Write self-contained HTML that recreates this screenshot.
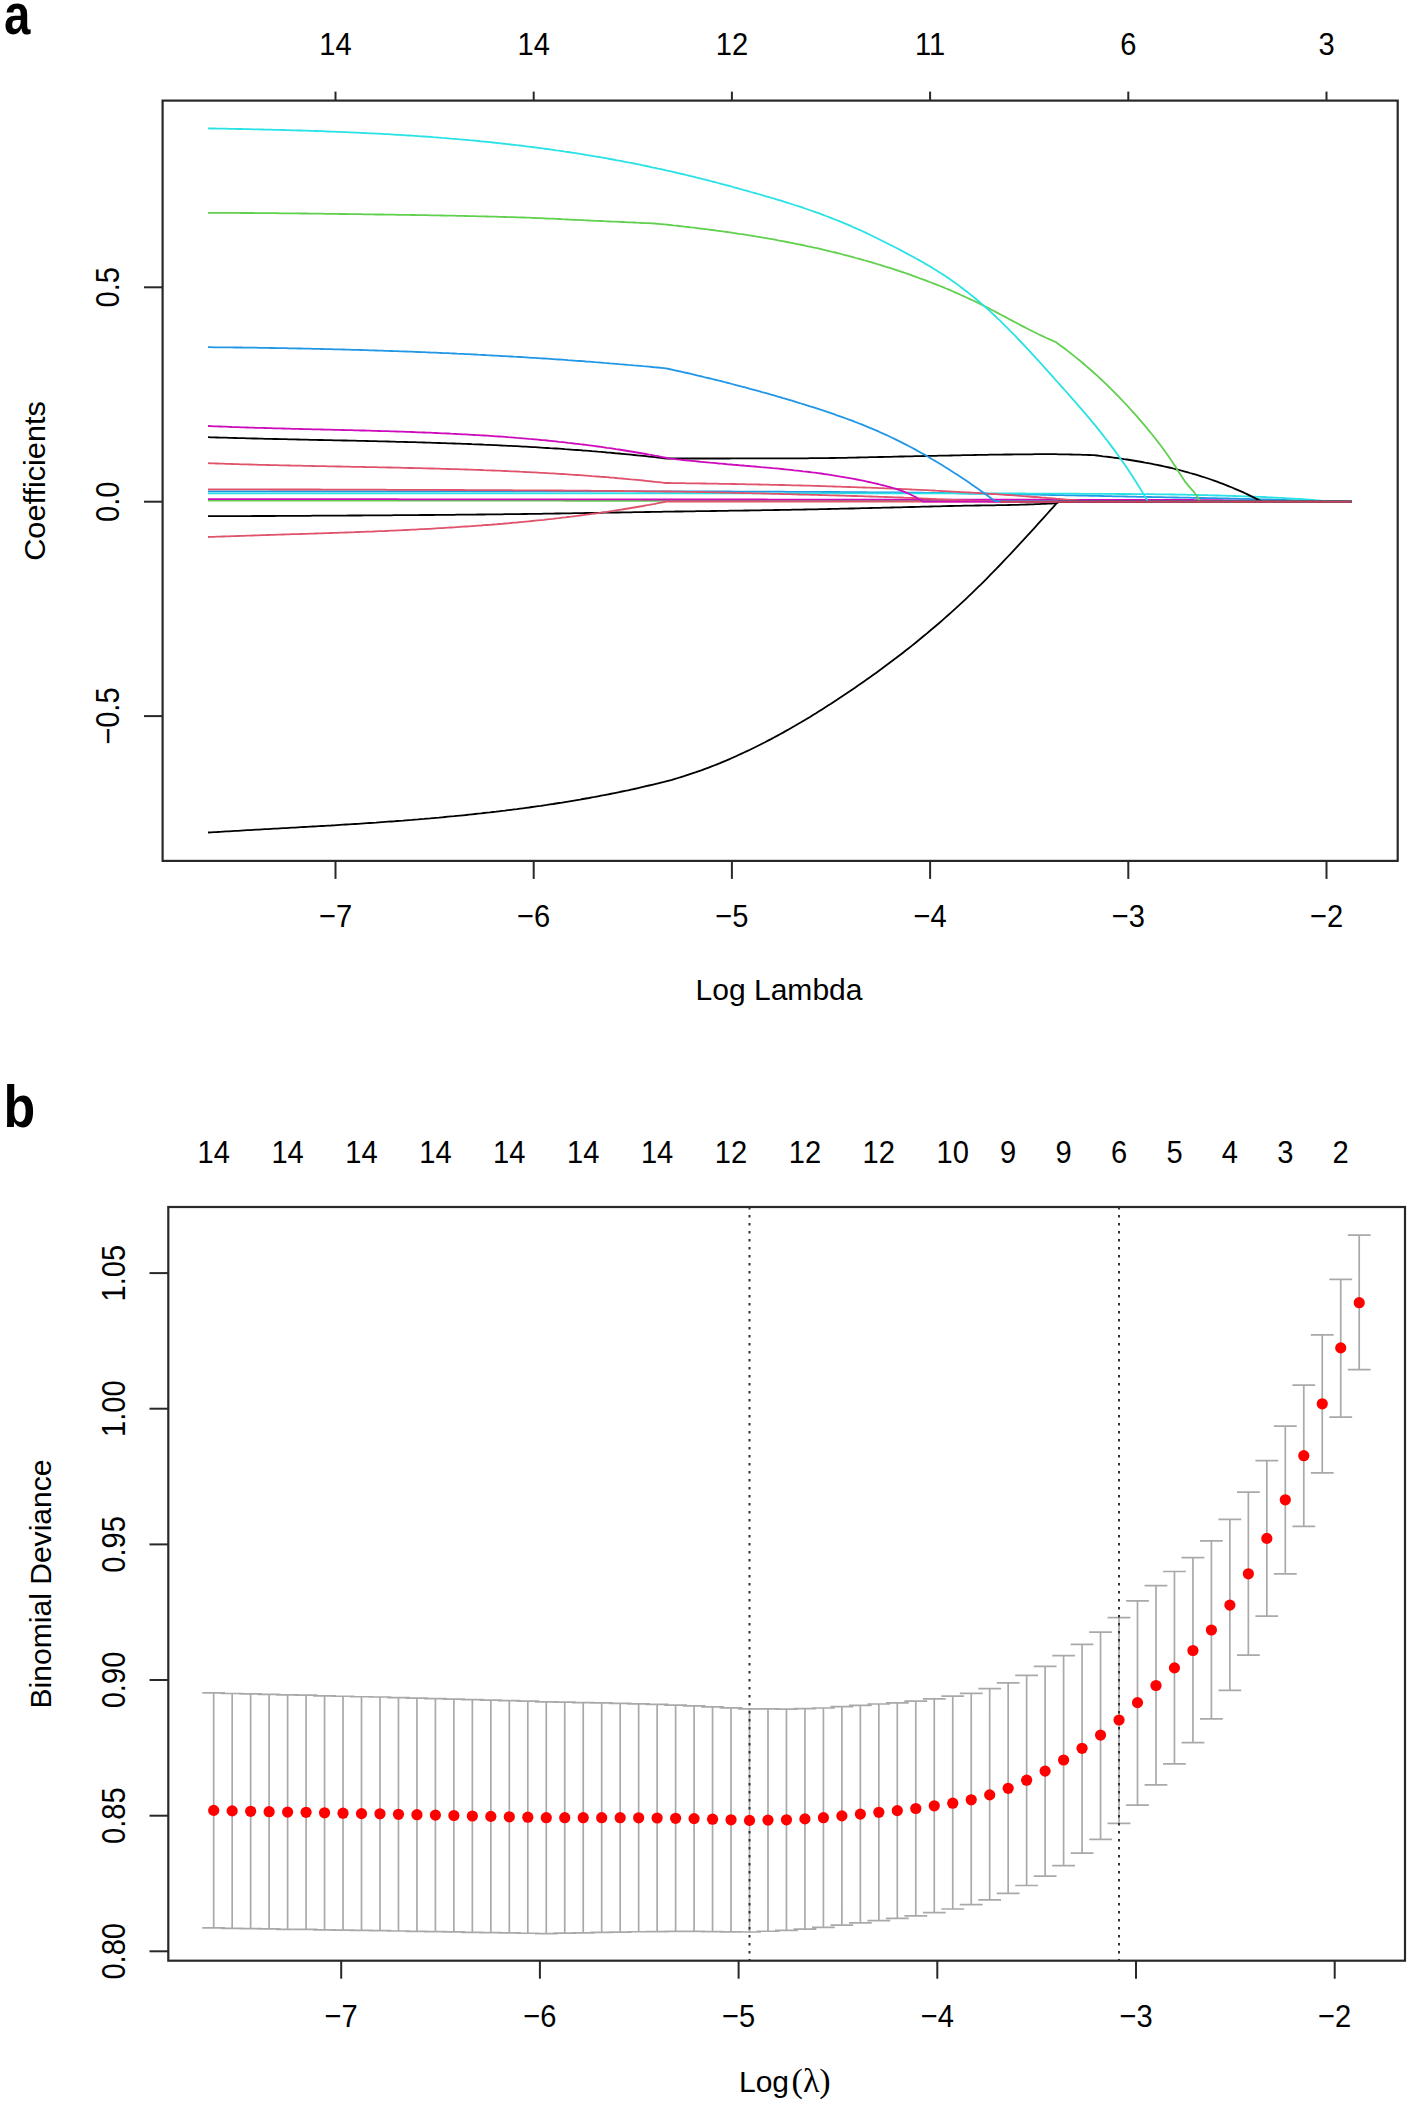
<!DOCTYPE html><html><head><meta charset="utf-8"><style>html,body{margin:0;padding:0;background:#fff;}svg{display:block}text{font-variant-ligatures:none}</style></head><body>
<svg width="1410" height="2104" viewBox="0 0 1410 2104" font-family="'Liberation Sans', sans-serif">
<rect width="1410" height="2104" fill="#fff"/>
<text x="0" y="0" font-size="56.5" font-weight="bold" transform="translate(4.0,34.2) scale(0.84,1)">a</text>
<text x="0" y="0" font-size="59" font-weight="bold" transform="translate(3.6,1126.6) scale(0.88,1)">b</text>
<clipPath id="ca"><rect x="162.6" y="100.6" width="1235.1000000000001" height="760.3"/></clipPath>
<g clip-path="url(#ca)">
<polyline points="208.0,500.5 211.0,500.5 214.0,500.5 217.0,500.5 220.0,500.5 223.0,500.5 226.0,500.5 229.0,500.5 232.0,500.5 235.0,500.5 238.0,500.5 241.0,500.5 244.0,500.5 247.0,500.5 250.0,500.5 253.0,500.5 256.0,500.5 259.0,500.5 262.0,500.5 265.0,500.5 268.0,500.5 271.0,500.5 274.0,500.5 277.0,500.5 280.0,500.6 283.0,500.6 286.0,500.6 289.0,500.6 292.0,500.6 295.0,500.6 298.0,500.6 301.0,500.6 304.0,500.6 307.0,500.6 310.0,500.6 313.0,500.6 316.0,500.6 319.0,500.6 322.0,500.6 325.0,500.6 328.0,500.6 331.0,500.6 334.0,500.6 337.0,500.6 340.0,500.6 343.0,500.6 346.0,500.6 349.0,500.6 352.0,500.6 355.0,500.6 358.0,500.6 361.0,500.6 364.0,500.6 367.0,500.6 370.0,500.6 373.0,500.6 376.0,500.6 379.0,500.6 382.0,500.6 385.0,500.6 388.0,500.6 391.0,500.6 394.0,500.6 397.0,500.6 400.0,500.6 403.0,500.6 406.0,500.6 409.0,500.6 412.0,500.6 415.0,500.6 418.0,500.6 421.0,500.7 424.0,500.7 427.0,500.7 430.0,500.7 433.0,500.7 436.0,500.7 439.0,500.7 442.0,500.7 445.0,500.7 448.0,500.7 451.0,500.7 454.0,500.7 457.0,500.7 460.0,500.7 463.0,500.7 466.0,500.7 469.0,500.7 472.0,500.7 475.0,500.7 478.0,500.7 481.0,500.7 484.0,500.7 487.0,500.7 490.0,500.7 493.0,500.7 496.0,500.7 499.0,500.7 502.0,500.7 505.0,500.7 508.0,500.7 511.0,500.7 514.0,500.7 517.0,500.7 520.0,500.7 523.0,500.7 526.0,500.7 529.0,500.7 532.0,500.7 535.0,500.7 538.0,500.7 541.0,500.7 544.0,500.7 547.0,500.7 550.0,500.7 553.0,500.7 556.0,500.7 559.0,500.7 562.0,500.7 565.0,500.8 568.0,500.8 571.0,500.8 574.0,500.8 577.0,500.8 580.0,500.8 583.0,500.8 586.0,500.8 589.0,500.8 592.0,500.8 595.0,500.8 598.0,500.8 601.0,500.8 604.0,500.8 607.0,500.8 610.0,500.8 613.0,500.8 616.0,500.8 619.0,500.8 622.0,500.8 625.0,500.8 628.0,500.8 631.0,500.8 634.0,500.8 637.0,500.8 640.0,500.8 643.0,500.8 646.0,500.8 649.0,500.8 652.0,500.8 655.0,500.8 658.0,500.8 661.0,500.8 664.0,500.8 667.0,500.8 670.0,500.8 673.0,500.8 676.0,500.8 679.0,500.8 682.0,500.8 685.0,500.8 688.0,500.8 691.0,500.8 694.0,500.8 697.0,500.8 700.0,500.8 703.0,500.8 706.0,500.9 709.0,500.9 712.0,500.9 715.0,500.9 718.0,500.9 721.0,500.9 724.0,500.9 727.0,500.9 730.0,500.9 733.0,500.9 736.0,500.9 739.0,500.9 742.0,500.9 745.0,500.9 748.0,500.9 751.0,500.9 754.0,500.9 757.0,500.9 760.0,500.9 763.0,500.9 766.0,500.9 769.0,500.9 772.0,500.9 775.0,500.9 778.0,500.9 781.0,500.9 784.0,500.9 787.0,500.9 790.0,500.9 793.0,500.9 796.0,500.9 799.0,500.9 802.0,500.9 805.0,500.9 808.0,500.9 811.0,500.9 814.0,500.9 817.0,500.9 820.0,500.9 823.0,500.9 826.0,500.9 829.0,500.9 832.0,500.9 835.0,500.9 838.0,500.9 841.0,500.9 844.0,500.9 847.0,501.0 850.0,501.0 853.0,501.0 856.0,501.0 859.0,501.0 862.0,501.0 865.0,501.0 868.0,501.0 871.0,501.0 874.0,501.0 877.0,501.0 880.0,501.0 883.0,501.0 886.0,501.0 889.0,501.0 892.0,501.0 895.0,501.0 898.0,501.0 901.0,501.0 904.0,501.0 907.0,501.0 910.0,501.0 913.0,501.0 916.0,501.0 919.0,501.0 922.0,501.0 925.0,501.0 928.0,501.0 931.0,501.0 934.0,501.0 937.0,501.0 940.0,501.0 943.0,501.0 946.0,501.0 949.0,501.0 952.0,501.0 955.0,501.0 958.0,501.0 961.0,501.0 964.0,501.0 967.0,501.0 970.0,501.0 973.0,501.0 976.0,501.0 979.0,501.0 982.0,501.0 985.0,501.0 988.0,501.1 991.0,501.1 994.0,501.1 997.0,501.1 1000.0,501.1 1003.0,501.1 1006.0,501.1 1009.0,501.1 1012.0,501.1 1015.0,501.1 1018.0,501.1 1021.0,501.1 1024.0,501.1 1027.0,501.1 1030.0,501.1 1033.0,501.1 1036.0,501.1 1039.0,501.1 1042.0,501.1 1045.0,501.1 1048.0,501.1 1051.0,501.1 1054.0,501.1 1057.0,501.1 1060.0,501.1 1063.0,501.1 1066.0,501.1 1069.0,501.1 1072.0,501.1 1075.0,501.1 1078.0,501.1 1081.0,501.1 1084.0,501.1 1087.0,501.1 1090.0,501.1 1093.0,501.1 1096.0,501.1 1099.0,501.1 1102.0,501.1 1105.0,501.1 1108.0,501.1 1111.0,501.1 1114.0,501.1 1117.0,501.1 1120.0,501.1 1123.0,501.1 1126.0,501.1 1129.0,501.1 1132.0,501.2 1135.0,501.2 1138.0,501.2 1141.0,501.2 1144.0,501.2 1147.0,501.2 1150.0,501.2 1153.0,501.2 1156.0,501.2 1159.0,501.2 1162.0,501.2 1165.0,501.2 1168.0,501.2 1171.0,501.2 1174.0,501.2 1177.0,501.2 1180.0,501.2 1183.0,501.2 1186.0,501.2 1189.0,501.2 1192.0,501.2 1195.0,501.2 1198.0,501.2 1200.0,501.2 1351.5,501.7" fill="none" stroke="#61D04F" stroke-width="1.8" stroke-linejoin="round" />
<polyline points="208.0,499.1 211.0,499.1 214.0,499.1 217.0,499.1 220.0,499.1 223.0,499.1 226.0,499.1 229.0,499.1 232.0,499.1 235.0,499.1 238.0,499.1 241.0,499.1 244.0,499.1 247.0,499.1 250.0,499.1 253.0,499.1 256.0,499.1 259.0,499.1 262.0,499.1 265.0,499.1 268.0,499.1 271.0,499.1 274.0,499.2 277.0,499.2 280.0,499.2 283.0,499.2 286.0,499.2 289.0,499.2 292.0,499.2 295.0,499.2 298.0,499.2 301.0,499.2 304.0,499.2 307.0,499.2 310.0,499.2 313.0,499.2 316.0,499.2 319.0,499.2 322.0,499.2 325.0,499.2 328.0,499.2 331.0,499.2 334.0,499.2 337.0,499.2 340.0,499.2 343.0,499.2 346.0,499.2 349.0,499.2 352.0,499.2 355.0,499.2 358.0,499.2 361.0,499.2 364.0,499.2 367.0,499.2 370.0,499.2 373.0,499.2 376.0,499.2 379.0,499.2 382.0,499.2 385.0,499.2 388.0,499.2 391.0,499.2 394.0,499.2 397.0,499.2 400.0,499.3 403.0,499.3 406.0,499.3 409.0,499.3 412.0,499.3 415.0,499.3 418.0,499.3 421.0,499.3 424.0,499.3 427.0,499.3 430.0,499.3 433.0,499.3 436.0,499.3 439.0,499.3 442.0,499.3 445.0,499.3 448.0,499.3 451.0,499.3 454.0,499.3 457.0,499.3 460.0,499.3 463.0,499.3 466.0,499.3 469.0,499.3 472.0,499.3 475.0,499.3 478.0,499.3 481.0,499.3 484.0,499.3 487.0,499.3 490.0,499.3 493.0,499.3 496.0,499.3 499.0,499.3 502.0,499.3 505.0,499.3 508.0,499.3 511.0,499.3 514.0,499.3 517.0,499.3 520.0,499.3 523.0,499.4 526.0,499.4 529.0,499.4 532.0,499.4 535.0,499.4 538.0,499.4 541.0,499.4 544.0,499.4 547.0,499.4 550.0,499.4 553.0,499.4 556.0,499.4 559.0,499.4 562.0,499.4 565.0,499.4 568.0,499.4 571.0,499.4 574.0,499.4 577.0,499.4 580.0,499.4 583.0,499.4 586.0,499.4 589.0,499.4 592.0,499.4 595.0,499.4 598.0,499.4 601.0,499.4 604.0,499.4 607.0,499.4 610.0,499.4 613.0,499.4 616.0,499.4 619.0,499.4 622.0,499.4 625.0,499.4 628.0,499.4 631.0,499.4 634.0,499.4 637.0,499.4 640.0,499.4 643.0,499.5 646.0,499.5 649.0,499.5 652.0,499.5 655.0,499.5 658.0,499.5 661.0,499.5 664.0,499.5 667.0,499.5 670.0,499.5 673.0,499.5 676.0,499.5 679.0,499.5 682.0,499.5 685.0,499.5 688.0,499.5 691.0,499.5 694.0,499.5 697.0,499.5 700.0,499.5 703.0,499.5 706.0,499.5 709.0,499.5 712.0,499.5 715.0,499.5 718.0,499.5 721.0,499.5 724.0,499.5 727.0,499.5 730.0,499.5 733.0,499.5 736.0,499.5 739.0,499.5 742.0,499.5 745.0,499.5 748.0,499.5 751.0,499.5 754.0,499.5 757.0,499.5 760.0,499.5 763.0,499.5 766.0,499.5 769.0,499.6 772.0,499.6 775.0,499.6 778.0,499.6 781.0,499.6 784.0,499.6 787.0,499.6 790.0,499.6 793.0,499.6 796.0,499.6 799.0,499.6 802.0,499.6 805.0,499.6 808.0,499.6 811.0,499.6 814.0,499.6 817.0,499.6 820.0,499.6 823.0,499.6 826.0,499.6 829.0,499.6 832.0,499.6 835.0,499.6 838.0,499.6 841.0,499.6 844.0,499.6 847.0,499.6 850.0,499.6 853.0,499.6 856.0,499.6 859.0,499.6 862.0,499.6 865.0,499.6 868.0,499.6 871.0,499.6 874.0,499.6 877.0,499.6 880.0,499.6 883.0,499.6 886.0,499.6 889.0,499.6 892.0,499.6 895.0,499.6 898.0,499.6 901.0,499.6 904.0,499.6 907.0,499.6 910.0,499.6 913.0,499.6 916.0,499.6 919.0,499.6 922.0,499.6 925.0,499.6 928.0,499.6 931.0,499.6 934.0,499.7 937.0,499.7 940.0,499.7 943.0,499.7 946.0,499.7 949.0,499.7 952.0,499.7 955.0,499.7 958.0,499.7 961.0,499.7 964.0,499.7 967.0,499.7 970.0,499.7 973.0,499.7 976.0,499.7 979.0,499.7 982.0,499.7 985.0,499.7 988.0,499.7 991.0,499.7 994.0,499.7 997.0,499.7 1000.0,499.7 1003.0,499.7 1006.0,499.7 1009.0,499.7 1012.0,499.7 1015.0,499.7 1018.0,499.7 1021.0,499.7 1024.0,499.7 1027.0,499.7 1030.0,499.7 1033.0,499.7 1036.0,499.7 1039.0,499.7 1042.0,499.7 1045.0,499.7 1048.0,499.8 1051.0,499.8 1054.0,499.8 1057.0,499.8 1060.0,499.8 1063.0,499.8 1066.0,499.8 1069.0,499.8 1072.0,499.8 1075.0,499.8 1078.0,499.8 1081.0,499.8 1084.0,499.8 1087.0,499.8 1090.0,499.8 1093.0,499.8 1096.0,499.8 1099.0,499.8 1102.0,499.8 1105.0,499.8 1108.0,499.8 1111.0,499.8 1114.0,499.8 1117.0,499.8 1120.0,499.8 1123.0,499.9 1126.0,499.9 1129.0,499.9 1132.0,499.9 1135.0,499.9 1138.0,499.9 1141.0,499.9 1144.0,499.9 1147.0,499.9 1150.0,499.9 1153.0,499.9 1156.0,499.9 1159.0,499.9 1162.0,499.9 1165.0,499.9 1168.0,499.9 1171.0,500.0 1174.0,500.0 1177.0,500.0 1180.0,500.0 1183.0,500.0 1186.0,500.0 1189.0,500.0 1192.0,500.0 1195.0,500.1 1198.0,500.1 1201.0,500.1 1204.0,500.1 1207.0,500.1 1210.0,500.2 1213.0,500.2 1216.0,500.2 1219.0,500.2 1222.0,500.2 1225.0,500.3 1228.0,500.3 1231.0,500.3 1234.0,500.3 1237.0,500.4 1240.0,500.4 1243.0,500.4 1246.0,500.4 1249.0,500.5 1252.0,500.5 1255.0,500.5 1258.0,500.5 1261.0,500.6 1264.0,500.6 1267.0,500.6 1270.0,500.7 1273.0,500.7 1276.0,500.7 1279.0,500.8 1282.0,500.8 1285.0,500.8 1288.0,500.9 1291.0,500.9 1294.0,500.9 1297.0,501.0 1300.0,501.0 1303.0,501.0 1306.0,501.1 1309.0,501.1 1312.0,501.2 1315.0,501.3 1318.0,501.3 1321.0,501.4 1324.0,501.5 1327.0,501.5 1330.0,501.6 1333.0,501.7 1334.0,501.7 1351.5,501.7" fill="none" stroke="#CD0BBC" stroke-width="1.8" stroke-linejoin="round" />
<polyline points="208.0,516.2 211.0,516.2 214.0,516.2 217.0,516.2 220.0,516.2 223.0,516.2 226.0,516.1 229.0,516.1 232.0,516.1 235.0,516.1 238.0,516.1 241.0,516.1 244.0,516.1 247.0,516.1 250.0,516.1 253.0,516.0 256.0,516.0 259.0,516.0 262.0,516.0 265.0,516.0 268.0,516.0 271.0,516.0 274.0,516.0 277.0,515.9 280.0,515.9 283.0,515.9 286.0,515.9 289.0,515.9 292.0,515.9 295.0,515.8 298.0,515.8 301.0,515.8 304.0,515.8 307.0,515.8 310.0,515.8 313.0,515.7 316.0,515.7 319.0,515.7 322.0,515.7 325.0,515.7 328.0,515.7 331.0,515.6 334.0,515.6 337.0,515.6 340.0,515.6 343.0,515.6 346.0,515.6 349.0,515.5 352.0,515.5 355.0,515.5 358.0,515.5 361.0,515.5 364.0,515.4 367.0,515.4 370.0,515.4 373.0,515.4 376.0,515.4 379.0,515.3 382.0,515.3 385.0,515.3 388.0,515.3 391.0,515.3 394.0,515.2 397.0,515.2 400.0,515.2 403.0,515.2 406.0,515.2 409.0,515.1 412.0,515.1 415.0,515.1 418.0,515.1 421.0,515.0 424.0,515.0 427.0,515.0 430.0,515.0 433.0,515.0 436.0,514.9 439.0,514.9 442.0,514.9 445.0,514.8 448.0,514.8 451.0,514.8 454.0,514.8 457.0,514.7 460.0,514.7 463.0,514.7 466.0,514.7 469.0,514.6 472.0,514.6 475.0,514.6 478.0,514.5 481.0,514.5 484.0,514.5 487.0,514.4 490.0,514.4 493.0,514.4 496.0,514.3 499.0,514.3 502.0,514.3 505.0,514.2 508.0,514.2 511.0,514.2 514.0,514.1 517.0,514.1 520.0,514.1 523.0,514.0 526.0,514.0 529.0,513.9 532.0,513.9 535.0,513.8 538.0,513.8 541.0,513.8 544.0,513.7 547.0,513.7 550.0,513.6 553.0,513.6 556.0,513.5 559.0,513.5 562.0,513.4 565.0,513.4 568.0,513.3 571.0,513.3 574.0,513.2 577.0,513.2 580.0,513.1 583.0,513.1 586.0,513.0 589.0,513.0 592.0,512.9 595.0,512.9 598.0,512.8 601.0,512.8 604.0,512.7 607.0,512.7 610.0,512.6 613.0,512.6 616.0,512.5 619.0,512.5 622.0,512.4 625.0,512.4 628.0,512.3 631.0,512.3 634.0,512.2 637.0,512.2 640.0,512.1 643.0,512.1 646.0,512.0 649.0,512.0 652.0,511.9 655.0,511.9 658.0,511.8 661.0,511.8 664.0,511.7 667.0,511.7 670.0,511.6 673.0,511.6 676.0,511.5 679.0,511.5 682.0,511.5 685.0,511.4 688.0,511.4 691.0,511.3 694.0,511.3 697.0,511.2 700.0,511.2 703.0,511.1 706.0,511.1 709.0,511.1 712.0,511.0 715.0,511.0 718.0,510.9 721.0,510.9 724.0,510.8 727.0,510.8 730.0,510.7 733.0,510.7 736.0,510.7 739.0,510.6 742.0,510.6 745.0,510.5 748.0,510.5 751.0,510.4 754.0,510.4 757.0,510.3 760.0,510.3 763.0,510.2 766.0,510.2 769.0,510.1 772.0,510.1 775.0,510.0 778.0,510.0 781.0,509.9 784.0,509.9 787.0,509.8 790.0,509.8 793.0,509.7 796.0,509.7 799.0,509.6 802.0,509.6 805.0,509.5 808.0,509.4 811.0,509.4 814.0,509.3 817.0,509.3 820.0,509.2 823.0,509.1 826.0,509.1 829.0,509.0 832.0,508.9 835.0,508.9 838.0,508.8 841.0,508.7 844.0,508.7 847.0,508.6 850.0,508.5 853.0,508.5 856.0,508.4 859.0,508.3 862.0,508.2 865.0,508.2 868.0,508.1 871.0,508.0 874.0,507.9 877.0,507.9 880.0,507.8 883.0,507.7 886.0,507.6 889.0,507.6 892.0,507.5 895.0,507.4 898.0,507.3 901.0,507.3 904.0,507.2 907.0,507.1 910.0,507.0 913.0,507.0 916.0,506.9 919.0,506.8 922.0,506.7 925.0,506.6 928.0,506.6 931.0,506.5 934.0,506.4 937.0,506.3 940.0,506.3 943.0,506.2 946.0,506.1 949.0,506.0 952.0,506.0 955.0,505.9 958.0,505.8 961.0,505.8 964.0,505.7 967.0,505.7 970.0,505.6 973.0,505.6 976.0,505.5 979.0,505.5 982.0,505.4 985.0,505.4 988.0,505.3 991.0,505.3 994.0,505.3 997.0,505.2 1000.0,505.2 1003.0,505.1 1006.0,505.1 1009.0,505.0 1012.0,504.9 1015.0,504.9 1018.0,504.8 1021.0,504.7 1024.0,504.6 1027.0,504.5 1030.0,504.4 1033.0,504.3 1036.0,504.2 1039.0,504.1 1042.0,503.9 1045.0,503.8 1048.0,503.6 1051.0,503.5 1054.0,503.3 1057.0,502.8 1060.0,501.7 1351.5,501.7" fill="none" stroke="#000000" stroke-width="1.8" stroke-linejoin="round" />
<polyline points="208.0,491.3 211.0,491.3 214.0,491.3 217.0,491.3 220.0,491.3 223.0,491.3 226.0,491.3 229.0,491.3 232.0,491.3 235.0,491.3 238.0,491.3 241.0,491.3 244.0,491.3 247.0,491.3 250.0,491.3 253.0,491.3 256.0,491.3 259.0,491.3 262.0,491.3 265.0,491.3 268.0,491.3 271.0,491.3 274.0,491.3 277.0,491.3 280.0,491.3 283.0,491.3 286.0,491.3 289.0,491.3 292.0,491.3 295.0,491.3 298.0,491.3 301.0,491.3 304.0,491.3 307.0,491.3 310.0,491.3 313.0,491.3 316.0,491.3 319.0,491.3 322.0,491.3 325.0,491.3 328.0,491.3 331.0,491.3 334.0,491.3 337.0,491.3 340.0,491.3 343.0,491.3 346.0,491.3 349.0,491.3 352.0,491.3 355.0,491.3 358.0,491.3 361.0,491.3 364.0,491.3 367.0,491.3 370.0,491.3 373.0,491.3 376.0,491.3 379.0,491.3 382.0,491.3 385.0,491.3 388.0,491.3 391.0,491.3 394.0,491.3 397.0,491.3 400.0,491.3 403.0,491.3 406.0,491.3 409.0,491.3 412.0,491.3 415.0,491.3 418.0,491.3 421.0,491.3 424.0,491.3 427.0,491.3 430.0,491.3 433.0,491.3 436.0,491.3 439.0,491.3 442.0,491.3 445.0,491.3 448.0,491.3 451.0,491.3 454.0,491.3 457.0,491.3 460.0,491.3 463.0,491.4 466.0,491.4 469.0,491.4 472.0,491.4 475.0,491.4 478.0,491.4 481.0,491.4 484.0,491.4 487.0,491.4 490.0,491.4 493.0,491.4 496.0,491.4 499.0,491.4 502.0,491.4 505.0,491.4 508.0,491.4 511.0,491.4 514.0,491.4 517.0,491.4 520.0,491.4 523.0,491.4 526.0,491.4 529.0,491.4 532.0,491.4 535.0,491.4 538.0,491.4 541.0,491.4 544.0,491.4 547.0,491.4 550.0,491.4 553.0,491.4 556.0,491.4 559.0,491.4 562.0,491.4 565.0,491.4 568.0,491.4 571.0,491.4 574.0,491.4 577.0,491.4 580.0,491.4 583.0,491.4 586.0,491.4 589.0,491.4 592.0,491.4 595.0,491.4 598.0,491.4 601.0,491.4 604.0,491.4 607.0,491.4 610.0,491.4 613.0,491.4 616.0,491.4 619.0,491.4 622.0,491.4 625.0,491.4 628.0,491.4 631.0,491.4 634.0,491.4 637.0,491.5 640.0,491.5 643.0,491.5 646.0,491.5 649.0,491.5 652.0,491.5 655.0,491.5 658.0,491.5 661.0,491.5 664.0,491.5 667.0,491.5 670.0,491.5 673.0,491.5 676.0,491.5 679.0,491.5 682.0,491.5 685.0,491.5 688.0,491.5 691.0,491.5 694.0,491.5 697.0,491.5 700.0,491.5 703.0,491.5 706.0,491.5 709.0,491.5 712.0,491.5 715.0,491.5 718.0,491.5 721.0,491.5 724.0,491.5 727.0,491.5 730.0,491.5 733.0,491.6 736.0,491.6 739.0,491.6 742.0,491.6 745.0,491.6 748.0,491.6 751.0,491.6 754.0,491.6 757.0,491.6 760.0,491.6 763.0,491.7 766.0,491.7 769.0,491.7 772.0,491.7 775.0,491.7 778.0,491.7 781.0,491.7 784.0,491.7 787.0,491.8 790.0,491.8 793.0,491.8 796.0,491.8 799.0,491.8 802.0,491.8 805.0,491.8 808.0,491.9 811.0,491.9 814.0,491.9 817.0,491.9 820.0,491.9 823.0,492.0 826.0,492.0 829.0,492.0 832.0,492.0 835.0,492.0 838.0,492.0 841.0,492.1 844.0,492.1 847.0,492.1 850.0,492.1 853.0,492.1 856.0,492.2 859.0,492.2 862.0,492.2 865.0,492.2 868.0,492.3 871.0,492.3 874.0,492.3 877.0,492.3 880.0,492.3 883.0,492.4 886.0,492.4 889.0,492.4 892.0,492.4 895.0,492.5 898.0,492.5 901.0,492.5 904.0,492.5 907.0,492.6 910.0,492.6 913.0,492.6 916.0,492.7 919.0,492.7 922.0,492.7 925.0,492.8 928.0,492.8 931.0,492.8 934.0,492.9 937.0,492.9 940.0,493.0 943.0,493.0 946.0,493.1 949.0,493.1 952.0,493.2 955.0,493.2 958.0,493.3 961.0,493.3 964.0,493.4 967.0,493.4 970.0,493.5 973.0,493.5 976.0,493.6 979.0,493.6 982.0,493.7 985.0,493.7 988.0,493.8 991.0,493.8 994.0,493.9 997.0,493.9 1000.0,494.0 1003.0,494.1 1006.0,494.1 1009.0,494.2 1012.0,494.2 1015.0,494.3 1018.0,494.3 1021.0,494.4 1024.0,494.4 1027.0,494.5 1030.0,494.5 1033.0,494.6 1036.0,494.7 1039.0,494.7 1042.0,494.8 1045.0,494.8 1048.0,494.9 1051.0,495.0 1054.0,495.0 1057.0,495.1 1060.0,495.1 1063.0,495.2 1066.0,495.3 1069.0,495.3 1072.0,495.4 1075.0,495.4 1078.0,495.5 1081.0,495.6 1084.0,495.6 1087.0,495.7 1090.0,495.8 1093.0,495.8 1096.0,495.9 1099.0,495.9 1102.0,496.0 1105.0,496.1 1108.0,496.1 1111.0,496.2 1114.0,496.3 1117.0,496.3 1120.0,496.4 1123.0,496.4 1126.0,496.5 1129.0,496.6 1132.0,496.6 1135.0,496.7 1138.0,496.8 1141.0,496.8 1144.0,496.9 1147.0,496.9 1150.0,497.0 1153.0,497.1 1156.0,497.1 1159.0,497.2 1162.0,497.2 1165.0,497.3 1168.0,497.3 1171.0,497.4 1174.0,497.5 1177.0,497.5 1180.0,497.6 1183.0,497.6 1186.0,497.7 1189.0,497.7 1192.0,497.8 1195.0,497.8 1198.0,497.9 1201.0,498.0 1204.0,498.0 1207.0,498.1 1210.0,498.1 1213.0,498.2 1216.0,498.2 1219.0,498.3 1222.0,498.4 1225.0,498.4 1228.0,498.5 1231.0,498.6 1234.0,498.6 1237.0,498.7 1240.0,498.8 1243.0,498.8 1246.0,498.9 1249.0,499.0 1252.0,499.1 1255.0,499.1 1258.0,499.2 1261.0,499.3 1264.0,499.4 1267.0,499.5 1270.0,499.5 1273.0,499.6 1276.0,499.7 1279.0,499.8 1282.0,499.9 1285.0,500.0 1288.0,500.1 1291.0,500.2 1294.0,500.3 1297.0,500.4 1300.0,500.5 1303.0,500.6 1306.0,500.7 1309.0,500.8 1312.0,500.9 1315.0,501.0 1318.0,501.1 1321.0,501.2 1324.0,501.3 1327.0,501.4 1330.0,501.5 1333.0,501.7 1334.0,501.7 1351.5,501.7" fill="none" stroke="#2297E6" stroke-width="1.8" stroke-linejoin="round" />
<polyline points="208.0,493.3 211.0,493.3 214.0,493.3 217.0,493.3 220.0,493.3 223.0,493.3 226.0,493.3 229.0,493.3 232.0,493.3 235.0,493.3 238.0,493.3 241.0,493.3 244.0,493.3 247.0,493.3 250.0,493.3 253.0,493.3 256.0,493.3 259.0,493.3 262.0,493.3 265.0,493.3 268.0,493.3 271.0,493.3 274.0,493.3 277.0,493.3 280.0,493.3 283.0,493.3 286.0,493.3 289.0,493.3 292.0,493.3 295.0,493.3 298.0,493.3 301.0,493.3 304.0,493.3 307.0,493.3 310.0,493.3 313.0,493.3 316.0,493.3 319.0,493.3 322.0,493.3 325.0,493.3 328.0,493.3 331.0,493.3 334.0,493.3 337.0,493.3 340.0,493.3 343.0,493.3 346.0,493.3 349.0,493.3 352.0,493.3 355.0,493.3 358.0,493.3 361.0,493.3 364.0,493.3 367.0,493.3 370.0,493.3 373.0,493.3 376.0,493.3 379.0,493.3 382.0,493.3 385.0,493.3 388.0,493.3 391.0,493.3 394.0,493.3 397.0,493.3 400.0,493.3 403.0,493.3 406.0,493.3 409.0,493.3 412.0,493.3 415.0,493.3 418.0,493.3 421.0,493.3 424.0,493.3 427.0,493.3 430.0,493.3 433.0,493.3 436.0,493.3 439.0,493.3 442.0,493.3 445.0,493.3 448.0,493.3 451.0,493.3 454.0,493.3 457.0,493.3 460.0,493.3 463.0,493.3 466.0,493.3 469.0,493.3 472.0,493.3 475.0,493.3 478.0,493.3 481.0,493.3 484.0,493.3 487.0,493.3 490.0,493.3 493.0,493.3 496.0,493.3 499.0,493.3 502.0,493.3 505.0,493.3 508.0,493.3 511.0,493.3 514.0,493.3 517.0,493.3 520.0,493.3 523.0,493.3 526.0,493.3 529.0,493.3 532.0,493.3 535.0,493.3 538.0,493.3 541.0,493.3 544.0,493.3 547.0,493.3 550.0,493.3 553.0,493.3 556.0,493.3 559.0,493.3 562.0,493.3 565.0,493.3 568.0,493.3 571.0,493.3 574.0,493.3 577.0,493.3 580.0,493.3 583.0,493.3 586.0,493.3 589.0,493.3 592.0,493.3 595.0,493.3 598.0,493.3 601.0,493.3 604.0,493.3 607.0,493.3 610.0,493.3 613.0,493.3 616.0,493.3 619.0,493.3 622.0,493.3 625.0,493.3 628.0,493.3 631.0,493.3 634.0,493.3 637.0,493.3 640.0,493.3 643.0,493.3 646.0,493.3 649.0,493.3 652.0,493.3 655.0,493.3 658.0,493.3 661.0,493.3 664.0,493.3 667.0,493.3 670.0,493.3 673.0,493.3 676.0,493.3 679.0,493.3 682.0,493.3 685.0,493.3 688.0,493.3 691.0,493.3 694.0,493.3 697.0,493.3 700.0,493.3 703.0,493.3 706.0,493.3 709.0,493.3 712.0,493.3 715.0,493.3 718.0,493.3 721.0,493.3 724.0,493.3 727.0,493.3 730.0,493.3 733.0,493.3 736.0,493.3 739.0,493.3 742.0,493.3 745.0,493.3 748.0,493.3 751.0,493.3 754.0,493.3 757.0,493.3 760.0,493.3 763.0,493.3 766.0,493.3 769.0,493.3 772.0,493.3 775.0,493.3 778.0,493.3 781.0,493.3 784.0,493.3 787.0,493.3 790.0,493.3 793.0,493.3 796.0,493.3 799.0,493.3 802.0,493.3 805.0,493.3 808.0,493.3 811.0,493.3 814.0,493.3 817.0,493.3 820.0,493.3 823.0,493.3 826.0,493.3 829.0,493.3 832.0,493.3 835.0,493.3 838.0,493.3 841.0,493.3 844.0,493.3 847.0,493.4 850.0,493.4 853.0,493.4 856.0,493.4 859.0,493.4 862.0,493.4 865.0,493.4 868.0,493.4 871.0,493.4 874.0,493.4 877.0,493.4 880.0,493.4 883.0,493.4 886.0,493.4 889.0,493.4 892.0,493.4 895.0,493.4 898.0,493.4 901.0,493.4 904.0,493.4 907.0,493.4 910.0,493.4 913.0,493.4 916.0,493.4 919.0,493.4 922.0,493.4 925.0,493.4 928.0,493.4 931.0,493.4 934.0,493.4 937.0,493.4 940.0,493.4 943.0,493.4 946.0,493.4 949.0,493.4 952.0,493.4 955.0,493.4 958.0,493.4 961.0,493.5 964.0,493.5 967.0,493.5 970.0,493.5 973.0,493.5 976.0,493.5 979.0,493.5 982.0,493.5 985.0,493.5 988.0,493.5 991.0,493.5 994.0,493.5 997.0,493.5 1000.0,493.5 1003.0,493.5 1006.0,493.5 1009.0,493.5 1012.0,493.5 1015.0,493.5 1018.0,493.5 1021.0,493.5 1024.0,493.5 1027.0,493.6 1030.0,493.6 1033.0,493.6 1036.0,493.6 1039.0,493.6 1042.0,493.6 1045.0,493.6 1048.0,493.6 1051.0,493.6 1054.0,493.6 1057.0,493.6 1060.0,493.7 1063.0,493.7 1066.0,493.7 1069.0,493.7 1072.0,493.7 1075.0,493.7 1078.0,493.7 1081.0,493.8 1084.0,493.8 1087.0,493.8 1090.0,493.8 1093.0,493.8 1096.0,493.8 1099.0,493.8 1102.0,493.9 1105.0,493.9 1108.0,493.9 1111.0,493.9 1114.0,493.9 1117.0,494.0 1120.0,494.0 1123.0,494.0 1126.0,494.0 1129.0,494.0 1132.0,494.1 1135.0,494.1 1138.0,494.1 1141.0,494.1 1144.0,494.2 1147.0,494.2 1150.0,494.2 1153.0,494.2 1156.0,494.3 1159.0,494.3 1162.0,494.3 1165.0,494.4 1168.0,494.4 1171.0,494.5 1174.0,494.5 1177.0,494.6 1180.0,494.6 1183.0,494.7 1186.0,494.7 1189.0,494.8 1192.0,494.9 1195.0,494.9 1198.0,495.0 1201.0,495.1 1204.0,495.1 1207.0,495.2 1210.0,495.3 1213.0,495.4 1216.0,495.5 1219.0,495.5 1222.0,495.6 1225.0,495.7 1228.0,495.8 1231.0,495.9 1234.0,496.0 1237.0,496.1 1240.0,496.2 1243.0,496.3 1246.0,496.4 1249.0,496.5 1252.0,496.6 1255.0,496.7 1258.0,496.8 1261.0,496.9 1264.0,497.0 1267.0,497.2 1270.0,497.3 1273.0,497.5 1276.0,497.6 1279.0,497.8 1282.0,497.9 1285.0,498.1 1288.0,498.3 1291.0,498.5 1294.0,498.6 1297.0,498.8 1300.0,499.0 1303.0,499.2 1306.0,499.4 1309.0,499.6 1312.0,499.8 1315.0,500.1 1318.0,500.3 1321.0,500.6 1324.0,500.8 1327.0,501.1 1330.0,501.3 1333.0,501.6 1334.0,501.7 1351.5,501.7" fill="none" stroke="#28E2E5" stroke-width="1.8" stroke-linejoin="round" />
<polyline points="208.0,489.4 211.0,489.4 214.0,489.4 217.0,489.4 220.0,489.4 223.0,489.4 226.0,489.4 229.0,489.4 232.0,489.4 235.0,489.4 238.0,489.4 241.0,489.4 244.0,489.4 247.0,489.4 250.0,489.4 253.0,489.4 256.0,489.4 259.0,489.4 262.0,489.4 265.0,489.4 268.0,489.4 271.0,489.5 274.0,489.5 277.0,489.5 280.0,489.5 283.0,489.5 286.0,489.5 289.0,489.5 292.0,489.5 295.0,489.5 298.0,489.5 301.0,489.5 304.0,489.5 307.0,489.5 310.0,489.5 313.0,489.5 316.0,489.5 319.0,489.5 322.0,489.6 325.0,489.6 328.0,489.6 331.0,489.6 334.0,489.6 337.0,489.6 340.0,489.6 343.0,489.6 346.0,489.6 349.0,489.6 352.0,489.6 355.0,489.6 358.0,489.7 361.0,489.7 364.0,489.7 367.0,489.7 370.0,489.7 373.0,489.7 376.0,489.7 379.0,489.7 382.0,489.7 385.0,489.7 388.0,489.8 391.0,489.8 394.0,489.8 397.0,489.8 400.0,489.8 403.0,489.8 406.0,489.8 409.0,489.8 412.0,489.8 415.0,489.9 418.0,489.9 421.0,489.9 424.0,489.9 427.0,489.9 430.0,489.9 433.0,489.9 436.0,489.9 439.0,489.9 442.0,490.0 445.0,490.0 448.0,490.0 451.0,490.0 454.0,490.0 457.0,490.0 460.0,490.0 463.0,490.0 466.0,490.1 469.0,490.1 472.0,490.1 475.0,490.1 478.0,490.1 481.0,490.1 484.0,490.1 487.0,490.1 490.0,490.2 493.0,490.2 496.0,490.2 499.0,490.2 502.0,490.2 505.0,490.2 508.0,490.2 511.0,490.2 514.0,490.3 517.0,490.3 520.0,490.3 523.0,490.3 526.0,490.3 529.0,490.3 532.0,490.4 535.0,490.4 538.0,490.4 541.0,490.4 544.0,490.4 547.0,490.4 550.0,490.5 553.0,490.5 556.0,490.5 559.0,490.5 562.0,490.5 565.0,490.6 568.0,490.6 571.0,490.6 574.0,490.6 577.0,490.6 580.0,490.7 583.0,490.7 586.0,490.7 589.0,490.7 592.0,490.8 595.0,490.8 598.0,490.8 601.0,490.8 604.0,490.9 607.0,490.9 610.0,490.9 613.0,490.9 616.0,491.0 619.0,491.0 622.0,491.0 625.0,491.1 628.0,491.1 631.0,491.1 634.0,491.1 637.0,491.2 640.0,491.2 643.0,491.2 646.0,491.3 649.0,491.3 652.0,491.3 655.0,491.4 658.0,491.4 661.0,491.4 664.0,491.5 667.0,491.5 670.0,491.5 673.0,491.6 676.0,491.6 679.0,491.7 682.0,491.7 685.0,491.8 688.0,491.8 691.0,491.9 694.0,491.9 697.0,492.0 700.0,492.0 703.0,492.1 706.0,492.2 709.0,492.2 712.0,492.3 715.0,492.3 718.0,492.4 721.0,492.5 724.0,492.6 727.0,492.6 730.0,492.7 733.0,492.8 736.0,492.8 739.0,492.9 742.0,493.0 745.0,493.1 748.0,493.1 751.0,493.2 754.0,493.3 757.0,493.4 760.0,493.4 763.0,493.5 766.0,493.6 769.0,493.7 772.0,493.8 775.0,493.8 778.0,493.9 781.0,494.0 784.0,494.1 787.0,494.2 790.0,494.2 793.0,494.3 796.0,494.4 799.0,494.5 802.0,494.6 805.0,494.6 808.0,494.7 811.0,494.8 814.0,494.9 817.0,494.9 820.0,495.0 823.0,495.1 826.0,495.2 829.0,495.3 832.0,495.4 835.0,495.4 838.0,495.5 841.0,495.6 844.0,495.7 847.0,495.8 850.0,495.9 853.0,496.0 856.0,496.0 859.0,496.1 862.0,496.2 865.0,496.3 868.0,496.4 871.0,496.5 874.0,496.6 877.0,496.7 880.0,496.8 883.0,496.9 886.0,497.0 889.0,497.1 892.0,497.2 895.0,497.3 898.0,497.4 901.0,497.5 904.0,497.7 907.0,497.8 910.0,497.9 913.0,498.0 916.0,498.2 919.0,498.3 922.0,498.4 925.0,498.6 928.0,498.7 931.0,498.9 934.0,499.0 937.0,499.2 940.0,499.3 943.0,499.4 946.0,499.6 949.0,499.7 952.0,499.9 955.0,500.0 958.0,500.1 961.0,500.2 964.0,500.4 967.0,500.5 970.0,500.6 973.0,500.7 976.0,500.8 979.0,500.9 982.0,501.1 985.0,501.2 988.0,501.3 991.0,501.4 994.0,501.5 997.0,501.6 1000.0,501.7 1351.5,501.7" fill="none" stroke="#DF536B" stroke-width="1.8" stroke-linejoin="round" />
<polyline points="208.0,537.0 211.0,536.9 214.0,536.8 217.0,536.7 220.0,536.6 223.0,536.5 226.0,536.4 229.0,536.3 232.0,536.2 235.0,536.1 238.0,536.0 241.0,535.9 244.0,535.8 247.0,535.7 250.0,535.6 253.0,535.5 256.0,535.4 259.0,535.3 262.0,535.2 265.0,535.1 268.0,535.0 271.0,534.9 274.0,534.8 277.0,534.7 280.0,534.6 283.0,534.5 286.0,534.4 289.0,534.3 292.0,534.2 295.0,534.2 298.0,534.1 301.0,534.0 304.0,533.9 307.0,533.8 310.0,533.7 313.0,533.6 316.0,533.5 319.0,533.4 322.0,533.3 325.0,533.2 328.0,533.1 331.0,533.0 334.0,532.9 337.0,532.8 340.0,532.7 343.0,532.6 346.0,532.5 349.0,532.4 352.0,532.3 355.0,532.1 358.0,532.0 361.0,531.9 364.0,531.8 367.0,531.7 370.0,531.6 373.0,531.5 376.0,531.3 379.0,531.2 382.0,531.1 385.0,531.0 388.0,530.8 391.0,530.7 394.0,530.6 397.0,530.4 400.0,530.3 403.0,530.1 406.0,530.0 409.0,529.9 412.0,529.7 415.0,529.6 418.0,529.4 421.0,529.2 424.0,529.1 427.0,528.9 430.0,528.8 433.0,528.6 436.0,528.4 439.0,528.2 442.0,528.1 445.0,527.9 448.0,527.7 451.0,527.5 454.0,527.3 457.0,527.1 460.0,526.9 463.0,526.7 466.0,526.5 469.0,526.3 472.0,526.1 475.0,525.9 478.0,525.7 481.0,525.5 484.0,525.2 487.0,525.0 490.0,524.8 493.0,524.5 496.0,524.3 499.0,524.0 502.0,523.8 505.0,523.5 508.0,523.3 511.0,523.0 514.0,522.7 517.0,522.5 520.0,522.2 523.0,521.9 526.0,521.6 529.0,521.3 532.0,521.0 535.0,520.7 538.0,520.4 541.0,520.1 544.0,519.8 547.0,519.4 550.0,519.1 553.0,518.8 556.0,518.4 559.0,518.1 562.0,517.7 565.0,517.4 568.0,517.0 571.0,516.7 574.0,516.3 577.0,515.9 580.0,515.5 583.0,515.1 586.0,514.7 589.0,514.3 592.0,513.9 595.0,513.5 598.0,513.1 601.0,512.6 604.0,512.2 607.0,511.8 610.0,511.3 613.0,510.9 616.0,510.4 619.0,509.9 622.0,509.5 625.0,509.0 628.0,508.5 631.0,508.0 634.0,507.5 637.0,507.0 640.0,506.5 643.0,506.0 646.0,505.4 649.0,504.9 652.0,504.3 655.0,503.8 658.0,503.2 661.0,502.7 664.0,502.1 666.0,501.7 1351.5,501.7" fill="none" stroke="#DF536B" stroke-width="1.8" stroke-linejoin="round" />
<polyline points="208.0,463.2 211.0,463.3 214.0,463.4 217.0,463.5 220.0,463.6 223.0,463.7 226.0,463.8 229.0,463.9 232.0,464.0 235.0,464.1 238.0,464.2 241.0,464.3 244.0,464.4 247.0,464.4 250.0,464.5 253.0,464.6 256.0,464.7 259.0,464.8 262.0,464.8 265.0,464.9 268.0,465.0 271.0,465.1 274.0,465.1 277.0,465.2 280.0,465.3 283.0,465.4 286.0,465.4 289.0,465.5 292.0,465.6 295.0,465.6 298.0,465.7 301.0,465.7 304.0,465.8 307.0,465.9 310.0,465.9 313.0,466.0 316.0,466.1 319.0,466.1 322.0,466.2 325.0,466.2 328.0,466.3 331.0,466.4 334.0,466.4 337.0,466.5 340.0,466.5 343.0,466.6 346.0,466.6 349.0,466.7 352.0,466.8 355.0,466.8 358.0,466.9 361.0,466.9 364.0,467.0 367.0,467.1 370.0,467.1 373.0,467.2 376.0,467.2 379.0,467.3 382.0,467.4 385.0,467.4 388.0,467.5 391.0,467.5 394.0,467.6 397.0,467.7 400.0,467.7 403.0,467.8 406.0,467.9 409.0,468.0 412.0,468.0 415.0,468.1 418.0,468.2 421.0,468.2 424.0,468.3 427.0,468.4 430.0,468.5 433.0,468.5 436.0,468.6 439.0,468.7 442.0,468.8 445.0,468.9 448.0,469.0 451.0,469.1 454.0,469.1 457.0,469.2 460.0,469.3 463.0,469.4 466.0,469.5 469.0,469.6 472.0,469.7 475.0,469.8 478.0,469.9 481.0,470.0 484.0,470.2 487.0,470.3 490.0,470.4 493.0,470.5 496.0,470.6 499.0,470.7 502.0,470.9 505.0,471.0 508.0,471.1 511.0,471.3 514.0,471.4 517.0,471.5 520.0,471.7 523.0,471.8 526.0,472.0 529.0,472.1 532.0,472.3 535.0,472.4 538.0,472.6 541.0,472.8 544.0,472.9 547.0,473.1 550.0,473.3 553.0,473.4 556.0,473.6 559.0,473.8 562.0,474.0 565.0,474.2 568.0,474.4 571.0,474.6 574.0,474.8 577.0,475.0 580.0,475.2 583.0,475.4 586.0,475.6 589.0,475.8 592.0,476.1 595.0,476.3 598.0,476.5 601.0,476.8 604.0,477.0 607.0,477.2 610.0,477.5 613.0,477.7 616.0,478.0 619.0,478.3 622.0,478.5 625.0,478.8 628.0,479.1 631.0,479.4 634.0,479.6 637.0,479.9 640.0,480.2 643.0,480.5 646.0,480.8 649.0,481.1 652.0,481.5 655.0,481.8 658.0,482.1 661.0,482.4 664.0,482.8 666.0,483.0 666.0,483.0 669.0,483.0 672.0,483.1 675.0,483.1 678.0,483.2 681.0,483.2 684.0,483.2 687.0,483.3 690.0,483.3 693.0,483.4 696.0,483.4 699.0,483.4 702.0,483.5 705.0,483.5 708.0,483.6 711.0,483.6 714.0,483.7 717.0,483.7 720.0,483.8 723.0,483.8 726.0,483.9 729.0,483.9 732.0,484.0 735.0,484.0 738.0,484.1 741.0,484.1 744.0,484.2 747.0,484.3 750.0,484.3 753.0,484.4 756.0,484.4 759.0,484.5 762.0,484.6 765.0,484.6 768.0,484.7 771.0,484.8 774.0,484.8 777.0,484.9 780.0,485.0 783.0,485.0 786.0,485.1 789.0,485.2 792.0,485.3 795.0,485.3 798.0,485.4 801.0,485.5 804.0,485.6 807.0,485.7 810.0,485.7 813.0,485.8 816.0,485.9 819.0,486.0 822.0,486.1 825.0,486.2 828.0,486.3 831.0,486.4 834.0,486.5 837.0,486.6 840.0,486.7 843.0,486.8 846.0,486.9 849.0,487.0 852.0,487.1 855.0,487.2 858.0,487.3 861.0,487.4 864.0,487.5 867.0,487.6 870.0,487.7 873.0,487.8 876.0,487.9 879.0,488.1 882.0,488.2 885.0,488.3 888.0,488.4 891.0,488.6 894.0,488.7 897.0,488.8 900.0,488.9 903.0,489.1 906.0,489.2 909.0,489.3 912.0,489.5 915.0,489.6 918.0,489.8 921.0,489.9 924.0,490.1 927.0,490.2 930.0,490.4 933.0,490.5 936.0,490.7 939.0,490.8 942.0,491.0 945.0,491.1 948.0,491.3 951.0,491.5 954.0,491.6 957.0,491.8 960.0,492.0 963.0,492.1 966.0,492.3 969.0,492.5 972.0,492.7 975.0,492.9 978.0,493.0 981.0,493.2 984.0,493.4 987.0,493.6 990.0,493.8 993.0,494.0 996.0,494.2 999.0,494.4 1002.0,494.6 1005.0,494.8 1008.0,495.0 1011.0,495.2 1014.0,495.4 1017.0,495.7 1020.0,495.9 1023.0,496.1 1026.0,496.3 1029.0,496.5 1032.0,496.8 1035.0,497.0 1038.0,497.2 1041.0,497.5 1044.0,497.7 1047.0,498.0 1050.0,498.2 1053.0,498.4 1056.0,498.7 1059.0,498.9 1062.0,499.2 1065.0,499.5 1068.0,499.7 1071.0,500.0 1074.0,500.2 1077.0,500.5 1080.0,500.8 1083.0,501.1 1086.0,501.3 1089.0,501.6 1090.0,501.7 1351.5,501.7" fill="none" stroke="#DF536B" stroke-width="1.8" stroke-linejoin="round" />
<polyline points="208.0,437.2 211.0,437.3 214.0,437.4 217.0,437.5 220.0,437.6 223.0,437.7 226.0,437.7 229.0,437.8 232.0,437.9 235.0,438.0 238.0,438.1 241.0,438.2 244.0,438.2 247.0,438.3 250.0,438.4 253.0,438.5 256.0,438.5 259.0,438.6 262.0,438.7 265.0,438.8 268.0,438.8 271.0,438.9 274.0,439.0 277.0,439.0 280.0,439.1 283.0,439.2 286.0,439.2 289.0,439.3 292.0,439.4 295.0,439.4 298.0,439.5 301.0,439.6 304.0,439.6 307.0,439.7 310.0,439.8 313.0,439.8 316.0,439.9 319.0,440.0 322.0,440.0 325.0,440.1 328.0,440.2 331.0,440.2 334.0,440.3 337.0,440.4 340.0,440.4 343.0,440.5 346.0,440.5 349.0,440.6 352.0,440.7 355.0,440.7 358.0,440.8 361.0,440.9 364.0,440.9 367.0,441.0 370.0,441.1 373.0,441.2 376.0,441.2 379.0,441.3 382.0,441.4 385.0,441.4 388.0,441.5 391.0,441.6 394.0,441.7 397.0,441.8 400.0,441.8 403.0,441.9 406.0,442.0 409.0,442.1 412.0,442.2 415.0,442.2 418.0,442.3 421.0,442.4 424.0,442.5 427.0,442.6 430.0,442.7 433.0,442.8 436.0,442.9 439.0,443.0 442.0,443.1 445.0,443.2 448.0,443.3 451.0,443.4 454.0,443.5 457.0,443.6 460.0,443.7 463.0,443.8 466.0,443.9 469.0,444.0 472.0,444.2 475.0,444.3 478.0,444.4 481.0,444.5 484.0,444.7 487.0,444.8 490.0,444.9 493.0,445.1 496.0,445.2 499.0,445.3 502.0,445.5 505.0,445.6 508.0,445.8 511.0,445.9 514.0,446.1 517.0,446.2 520.0,446.4 523.0,446.6 526.0,446.7 529.0,446.9 532.0,447.1 535.0,447.2 538.0,447.4 541.0,447.6 544.0,447.8 547.0,448.0 550.0,448.2 553.0,448.3 556.0,448.5 559.0,448.7 562.0,448.9 565.0,449.2 568.0,449.4 571.0,449.6 574.0,449.8 577.0,450.0 580.0,450.2 583.0,450.5 586.0,450.7 589.0,450.9 592.0,451.2 595.0,451.4 598.0,451.7 601.0,451.9 604.0,452.2 607.0,452.5 610.0,452.7 613.0,453.0 616.0,453.3 619.0,453.5 622.0,453.8 625.0,454.1 628.0,454.4 631.0,454.7 634.0,455.0 637.0,455.3 640.0,455.6 643.0,455.9 646.0,456.2 649.0,456.6 652.0,456.9 655.0,457.2 658.0,457.6 661.0,457.9 664.0,458.3 666.0,458.5 666.0,458.5 669.0,458.5 672.0,458.5 675.0,458.5 678.0,458.5 681.0,458.5 684.0,458.5 687.0,458.5 690.0,458.5 693.0,458.5 696.0,458.5 699.0,458.5 702.0,458.5 705.0,458.5 708.0,458.5 711.0,458.5 714.0,458.5 717.0,458.5 720.0,458.5 723.0,458.5 726.0,458.5 729.0,458.5 732.0,458.4 735.0,458.4 738.0,458.4 741.0,458.4 744.0,458.4 747.0,458.4 750.0,458.4 753.0,458.4 756.0,458.4 759.0,458.4 762.0,458.4 765.0,458.4 768.0,458.4 771.0,458.4 774.0,458.4 777.0,458.4 780.0,458.4 783.0,458.3 786.0,458.3 789.0,458.3 792.0,458.3 795.0,458.3 798.0,458.3 801.0,458.3 804.0,458.3 807.0,458.3 810.0,458.2 813.0,458.2 816.0,458.2 819.0,458.2 822.0,458.1 825.0,458.1 828.0,458.1 831.0,458.0 834.0,458.0 837.0,457.9 840.0,457.9 843.0,457.8 846.0,457.8 849.0,457.7 852.0,457.6 855.0,457.6 858.0,457.5 861.0,457.4 864.0,457.4 867.0,457.3 870.0,457.2 873.0,457.2 876.0,457.1 879.0,457.0 882.0,457.0 885.0,456.9 888.0,456.8 891.0,456.8 894.0,456.7 897.0,456.6 900.0,456.5 903.0,456.5 906.0,456.4 909.0,456.3 912.0,456.3 915.0,456.2 918.0,456.2 921.0,456.1 924.0,456.0 927.0,456.0 930.0,455.9 933.0,455.9 936.0,455.8 939.0,455.7 942.0,455.7 945.0,455.6 948.0,455.6 951.0,455.5 954.0,455.4 957.0,455.4 960.0,455.3 963.0,455.2 966.0,455.2 969.0,455.1 972.0,455.1 975.0,455.0 978.0,454.9 981.0,454.9 984.0,454.8 987.0,454.8 990.0,454.7 993.0,454.7 996.0,454.6 999.0,454.6 1002.0,454.6 1005.0,454.5 1008.0,454.5 1011.0,454.5 1014.0,454.4 1017.0,454.4 1020.0,454.4 1023.0,454.3 1026.0,454.3 1029.0,454.3 1032.0,454.3 1035.0,454.2 1038.0,454.2 1041.0,454.2 1044.0,454.2 1047.0,454.2 1050.0,454.2 1053.0,454.2 1056.0,454.2 1059.0,454.3 1062.0,454.3 1065.0,454.4 1068.0,454.4 1071.0,454.5 1074.0,454.6 1077.0,454.7 1080.0,454.7 1083.0,454.8 1086.0,454.9 1089.0,455.0 1092.0,455.1 1094.0,455.2 1094.0,455.2 1097.0,455.5 1100.0,455.9 1103.0,456.3 1106.0,456.6 1109.0,457.0 1112.0,457.4 1115.0,457.8 1118.0,458.2 1121.0,458.6 1124.0,459.1 1127.0,459.5 1130.0,460.0 1133.0,460.5 1136.0,461.0 1139.0,461.5 1142.0,462.0 1145.0,462.6 1148.0,463.1 1151.0,463.7 1154.0,464.3 1157.0,464.9 1160.0,465.5 1163.0,466.2 1166.0,466.8 1169.0,467.5 1172.0,468.2 1175.0,469.0 1178.0,469.7 1181.0,470.5 1184.0,471.3 1187.0,472.1 1190.0,473.0 1193.0,473.8 1196.0,474.7 1199.0,475.6 1202.0,476.6 1205.0,477.5 1208.0,478.5 1211.0,479.5 1214.0,480.6 1217.0,481.7 1220.0,482.8 1223.0,483.9 1226.0,485.1 1229.0,486.3 1232.0,487.5 1235.0,488.8 1238.0,490.1 1241.0,491.4 1244.0,492.7 1247.0,494.1 1250.0,495.6 1253.0,497.1 1256.0,498.6 1259.0,500.1 1262.0,501.7 1351.5,501.7" fill="none" stroke="#000000" stroke-width="1.8" stroke-linejoin="round" />
<polyline points="208.0,426.0 211.0,426.1 214.0,426.3 217.0,426.4 220.0,426.5 223.0,426.6 226.0,426.7 229.0,426.8 232.0,427.0 235.0,427.1 238.0,427.2 241.0,427.3 244.0,427.4 247.0,427.5 250.0,427.6 253.0,427.7 256.0,427.8 259.0,427.8 262.0,427.9 265.0,428.0 268.0,428.1 271.0,428.2 274.0,428.3 277.0,428.4 280.0,428.4 283.0,428.5 286.0,428.6 289.0,428.7 292.0,428.8 295.0,428.8 298.0,428.9 301.0,429.0 304.0,429.1 307.0,429.1 310.0,429.2 313.0,429.3 316.0,429.3 319.0,429.4 322.0,429.5 325.0,429.6 328.0,429.6 331.0,429.7 334.0,429.8 337.0,429.9 340.0,429.9 343.0,430.0 346.0,430.1 349.0,430.2 352.0,430.2 355.0,430.3 358.0,430.4 361.0,430.5 364.0,430.5 367.0,430.6 370.0,430.7 373.0,430.8 376.0,430.9 379.0,431.0 382.0,431.1 385.0,431.1 388.0,431.2 391.0,431.3 394.0,431.4 397.0,431.5 400.0,431.6 403.0,431.7 406.0,431.8 409.0,431.9 412.0,432.0 415.0,432.1 418.0,432.3 421.0,432.4 424.0,432.5 427.0,432.6 430.0,432.7 433.0,432.9 436.0,433.0 439.0,433.1 442.0,433.3 445.0,433.4 448.0,433.5 451.0,433.7 454.0,433.8 457.0,434.0 460.0,434.1 463.0,434.3 466.0,434.4 469.0,434.6 472.0,434.8 475.0,435.0 478.0,435.1 481.0,435.3 484.0,435.5 487.0,435.7 490.0,435.9 493.0,436.1 496.0,436.3 499.0,436.5 502.0,436.7 505.0,436.9 508.0,437.2 511.0,437.4 514.0,437.6 517.0,437.9 520.0,438.1 523.0,438.3 526.0,438.6 529.0,438.9 532.0,439.1 535.0,439.4 538.0,439.7 541.0,440.0 544.0,440.2 547.0,440.5 550.0,440.8 553.0,441.1 556.0,441.4 559.0,441.8 562.0,442.1 565.0,442.4 568.0,442.8 571.0,443.1 574.0,443.5 577.0,443.8 580.0,444.2 583.0,444.5 586.0,444.9 589.0,445.3 592.0,445.7 595.0,446.1 598.0,446.5 601.0,446.9 604.0,447.3 607.0,447.8 610.0,448.2 613.0,448.6 616.0,449.1 619.0,449.5 622.0,450.0 625.0,450.5 628.0,451.0 631.0,451.5 634.0,452.0 637.0,452.5 640.0,453.0 643.0,453.5 646.0,454.0 649.0,454.6 652.0,455.1 655.0,455.7 658.0,456.2 661.0,456.8 664.0,457.4 667.0,458.0 668.0,458.2 668.0,458.2 671.0,458.6 674.0,458.9 677.0,459.3 680.0,459.6 683.0,460.0 686.0,460.3 689.0,460.6 692.0,460.9 695.0,461.2 698.0,461.5 701.0,461.8 704.0,462.1 707.0,462.4 710.0,462.7 713.0,462.9 716.0,463.2 719.0,463.5 722.0,463.7 725.0,464.0 728.0,464.3 731.0,464.5 734.0,464.8 737.0,465.0 740.0,465.3 743.0,465.5 746.0,465.8 749.0,466.0 752.0,466.3 755.0,466.5 758.0,466.8 761.0,467.1 764.0,467.3 767.0,467.6 770.0,467.9 773.0,468.2 776.0,468.4 779.0,468.7 782.0,469.0 785.0,469.3 788.0,469.6 791.0,469.9 794.0,470.3 797.0,470.6 800.0,470.9 803.0,471.3 806.0,471.6 809.0,472.0 812.0,472.4 815.0,472.7 818.0,473.1 821.0,473.5 824.0,474.0 827.0,474.4 830.0,474.8 833.0,475.3 836.0,475.8 839.0,476.3 842.0,476.8 845.0,477.3 848.0,477.8 851.0,478.3 854.0,478.9 857.0,479.5 860.0,480.1 863.0,480.7 866.0,481.3 869.0,482.0 872.0,482.7 875.0,483.3 878.0,484.0 881.0,484.8 884.0,485.5 887.0,486.3 890.0,487.1 893.0,488.0 896.0,488.9 899.0,489.8 902.0,490.9 905.0,492.1 908.0,493.3 911.0,494.7 914.0,496.2 917.0,497.9 920.0,499.7 923.0,501.7 1351.5,501.7" fill="none" stroke="#CD0BBC" stroke-width="1.8" stroke-linejoin="round" />
<polyline points="208.0,347.2 211.0,347.2 214.0,347.3 217.0,347.3 220.0,347.3 223.0,347.3 226.0,347.4 229.0,347.4 232.0,347.4 235.0,347.5 238.0,347.5 241.0,347.5 244.0,347.6 247.0,347.6 250.0,347.7 253.0,347.7 256.0,347.7 259.0,347.8 262.0,347.8 265.0,347.9 268.0,347.9 271.0,348.0 274.0,348.0 277.0,348.1 280.0,348.1 283.0,348.2 286.0,348.2 289.0,348.3 292.0,348.3 295.0,348.4 298.0,348.5 301.0,348.5 304.0,348.6 307.0,348.7 310.0,348.7 313.0,348.8 316.0,348.8 319.0,348.9 322.0,349.0 325.0,349.1 328.0,349.1 331.0,349.2 334.0,349.3 337.0,349.4 340.0,349.4 343.0,349.5 346.0,349.6 349.0,349.7 352.0,349.8 355.0,349.8 358.0,349.9 361.0,350.0 364.0,350.1 367.0,350.2 370.0,350.3 373.0,350.4 376.0,350.5 379.0,350.6 382.0,350.7 385.0,350.8 388.0,350.9 391.0,351.0 394.0,351.1 397.0,351.2 400.0,351.3 403.0,351.4 406.0,351.5 409.0,351.6 412.0,351.7 415.0,351.9 418.0,352.0 421.0,352.1 424.0,352.2 427.0,352.3 430.0,352.5 433.0,352.6 436.0,352.7 439.0,352.8 442.0,353.0 445.0,353.1 448.0,353.2 451.0,353.4 454.0,353.5 457.0,353.7 460.0,353.8 463.0,353.9 466.0,354.1 469.0,354.2 472.0,354.4 475.0,354.5 478.0,354.7 481.0,354.8 484.0,355.0 487.0,355.2 490.0,355.3 493.0,355.5 496.0,355.6 499.0,355.8 502.0,356.0 505.0,356.1 508.0,356.3 511.0,356.5 514.0,356.7 517.0,356.8 520.0,357.0 523.0,357.2 526.0,357.4 529.0,357.6 532.0,357.8 535.0,357.9 538.0,358.1 541.0,358.3 544.0,358.5 547.0,358.7 550.0,358.9 553.0,359.1 556.0,359.3 559.0,359.5 562.0,359.7 565.0,359.9 568.0,360.2 571.0,360.4 574.0,360.6 577.0,360.8 580.0,361.0 583.0,361.2 586.0,361.5 589.0,361.7 592.0,361.9 595.0,362.2 598.0,362.4 601.0,362.6 604.0,362.9 607.0,363.1 610.0,363.4 613.0,363.6 616.0,363.8 619.0,364.1 622.0,364.3 625.0,364.6 628.0,364.9 631.0,365.1 634.0,365.4 637.0,365.6 640.0,365.9 643.0,366.2 646.0,366.4 649.0,366.7 652.0,367.0 655.0,367.3 658.0,367.5 661.0,367.8 664.0,368.1 666.0,368.3 666.0,368.3 669.0,369.0 672.0,369.6 675.0,370.3 678.0,371.0 681.0,371.6 684.0,372.3 687.0,373.0 690.0,373.7 693.0,374.4 696.0,375.1 699.0,375.8 702.0,376.5 705.0,377.3 708.0,378.0 711.0,378.7 714.0,379.5 717.0,380.2 720.0,380.9 723.0,381.7 726.0,382.5 729.0,383.2 732.0,384.0 735.0,384.8 738.0,385.6 741.0,386.4 744.0,387.1 747.0,387.9 750.0,388.8 753.0,389.6 756.0,390.4 759.0,391.2 762.0,392.1 765.0,392.9 768.0,393.7 771.0,394.6 774.0,395.4 777.0,396.3 780.0,397.2 783.0,398.1 786.0,398.9 789.0,399.8 792.0,400.7 795.0,401.6 798.0,402.6 801.0,403.5 804.0,404.4 807.0,405.3 810.0,406.3 813.0,407.2 816.0,408.2 819.0,409.2 822.0,410.2 825.0,411.1 828.0,412.2 831.0,413.2 834.0,414.2 837.0,415.3 840.0,416.3 843.0,417.4 846.0,418.5 849.0,419.6 852.0,420.7 855.0,421.9 858.0,423.0 861.0,424.2 864.0,425.4 867.0,426.6 870.0,427.9 873.0,429.1 876.0,430.4 879.0,431.7 882.0,433.1 885.0,434.4 888.0,435.8 891.0,437.2 894.0,438.6 897.0,440.1 900.0,441.6 903.0,443.1 906.0,444.6 909.0,446.2 912.0,447.8 915.0,449.4 918.0,451.1 921.0,452.7 924.0,454.4 927.0,456.1 930.0,457.9 933.0,459.7 936.0,461.4 939.0,463.3 942.0,465.1 945.0,467.0 948.0,468.8 951.0,470.8 954.0,472.7 957.0,474.6 960.0,476.6 963.0,478.6 966.0,480.6 969.0,482.6 972.0,484.7 975.0,486.8 978.0,488.8 981.0,490.9 984.0,493.1 987.0,495.2 990.0,497.4 993.0,499.5 995.0,501.0 1351.5,501.7" fill="none" stroke="#2297E6" stroke-width="1.8" stroke-linejoin="round" />
<polyline points="208.0,212.8 211.0,212.8 214.0,212.8 217.0,212.8 220.0,212.8 223.0,212.9 226.0,212.9 229.0,212.9 232.0,212.9 235.0,212.9 238.0,212.9 241.0,213.0 244.0,213.0 247.0,213.0 250.0,213.0 253.0,213.0 256.0,213.1 259.0,213.1 262.0,213.1 265.0,213.1 268.0,213.2 271.0,213.2 274.0,213.2 277.0,213.2 280.0,213.3 283.0,213.3 286.0,213.3 289.0,213.4 292.0,213.4 295.0,213.4 298.0,213.4 301.0,213.5 304.0,213.5 307.0,213.5 310.0,213.6 313.0,213.6 316.0,213.7 319.0,213.7 322.0,213.7 325.0,213.8 328.0,213.8 331.0,213.8 334.0,213.9 337.0,213.9 340.0,214.0 343.0,214.0 346.0,214.0 349.0,214.1 352.0,214.1 355.0,214.2 358.0,214.2 361.0,214.2 364.0,214.3 367.0,214.3 370.0,214.4 373.0,214.4 376.0,214.5 379.0,214.5 382.0,214.5 385.0,214.6 388.0,214.6 391.0,214.7 394.0,214.7 397.0,214.8 400.0,214.8 403.0,214.8 406.0,214.9 409.0,214.9 412.0,215.0 415.0,215.0 418.0,215.1 421.0,215.1 424.0,215.2 427.0,215.2 430.0,215.3 433.0,215.3 436.0,215.4 439.0,215.4 442.0,215.5 445.0,215.6 448.0,215.6 451.0,215.7 454.0,215.7 457.0,215.8 460.0,215.9 463.0,215.9 466.0,216.0 469.0,216.1 472.0,216.1 475.0,216.2 478.0,216.3 481.0,216.4 484.0,216.4 487.0,216.5 490.0,216.6 493.0,216.7 496.0,216.7 499.0,216.8 502.0,216.9 505.0,217.0 508.0,217.1 511.0,217.2 514.0,217.2 517.0,217.3 520.0,217.4 523.0,217.5 526.0,217.6 529.0,217.7 532.0,217.8 535.0,218.0 538.0,218.1 541.0,218.2 544.0,218.3 547.0,218.5 550.0,218.6 553.0,218.7 556.0,218.9 559.0,219.0 562.0,219.2 565.0,219.3 568.0,219.5 571.0,219.6 574.0,219.8 577.0,219.9 580.0,220.1 583.0,220.2 586.0,220.3 589.0,220.5 592.0,220.6 595.0,220.8 598.0,220.9 601.0,221.0 604.0,221.2 607.0,221.3 610.0,221.5 613.0,221.6 616.0,221.7 619.0,221.9 622.0,222.0 625.0,222.1 628.0,222.3 631.0,222.4 634.0,222.5 637.0,222.7 640.0,222.8 643.0,223.0 646.0,223.1 649.0,223.2 652.0,223.4 655.0,223.5 655.0,223.5 658.0,223.8 661.0,224.1 664.0,224.4 667.0,224.7 670.0,225.0 673.0,225.4 676.0,225.7 679.0,226.0 682.0,226.3 685.0,226.7 688.0,227.0 691.0,227.4 694.0,227.7 697.0,228.1 700.0,228.5 703.0,228.8 706.0,229.2 709.0,229.6 712.0,230.0 715.0,230.4 718.0,230.8 721.0,231.2 724.0,231.6 727.0,232.0 730.0,232.4 733.0,232.9 736.0,233.3 739.0,233.8 742.0,234.2 745.0,234.7 748.0,235.2 751.0,235.6 754.0,236.1 757.0,236.6 760.0,237.1 763.0,237.6 766.0,238.1 769.0,238.7 772.0,239.2 775.0,239.7 778.0,240.3 781.0,240.8 784.0,241.4 787.0,242.0 790.0,242.6 793.0,243.2 796.0,243.8 799.0,244.4 802.0,245.0 805.0,245.6 808.0,246.3 811.0,246.9 814.0,247.6 817.0,248.2 820.0,248.9 823.0,249.6 826.0,250.3 829.0,251.0 832.0,251.8 835.0,252.5 838.0,253.2 841.0,254.0 844.0,254.8 847.0,255.5 850.0,256.3 853.0,257.1 856.0,258.0 859.0,258.8 862.0,259.6 865.0,260.5 868.0,261.3 871.0,262.2 874.0,263.1 877.0,264.0 880.0,264.9 883.0,265.8 886.0,266.8 889.0,267.7 892.0,268.7 895.0,269.6 898.0,270.6 901.0,271.6 904.0,272.7 907.0,273.7 910.0,274.7 913.0,275.8 916.0,276.9 919.0,278.0 922.0,279.1 925.0,280.2 928.0,281.3 931.0,282.5 934.0,283.6 937.0,284.8 940.0,286.0 943.0,287.2 946.0,288.5 949.0,289.7 952.0,291.0 955.0,292.3 958.0,293.6 961.0,295.0 964.0,296.3 967.0,297.7 970.0,299.1 973.0,300.5 976.0,301.9 979.0,303.4 982.0,304.9 985.0,306.4 988.0,307.9 991.0,309.5 994.0,311.0 997.0,312.6 1000.0,314.2 1003.0,315.8 1006.0,317.4 1009.0,319.0 1012.0,320.6 1015.0,322.2 1018.0,323.8 1021.0,325.4 1024.0,326.9 1027.0,328.5 1030.0,330.0 1033.0,331.5 1036.0,333.0 1039.0,334.5 1042.0,335.9 1045.0,337.3 1048.0,338.7 1051.0,340.0 1054.0,341.3 1055.7,342.0 1055.7,342.0 1058.7,344.2 1061.7,346.4 1064.7,348.6 1067.7,350.9 1070.7,353.3 1073.7,355.6 1076.7,358.1 1079.7,360.5 1082.7,363.0 1085.7,365.6 1088.7,368.2 1091.7,370.8 1094.7,373.5 1097.7,376.2 1100.7,379.0 1103.7,381.8 1106.7,384.7 1109.7,387.6 1112.7,390.6 1115.7,393.6 1118.7,396.7 1121.7,399.8 1124.7,403.0 1127.7,406.2 1130.7,409.5 1133.7,412.8 1136.7,416.2 1139.7,419.6 1142.7,423.1 1145.7,426.7 1148.7,430.3 1151.7,434.0 1154.7,437.7 1157.7,441.6 1160.7,445.5 1163.7,449.5 1166.7,453.7 1169.7,458.0 1172.7,462.5 1175.7,467.1 1178.7,471.9 1181.7,476.6 1184.7,481.1 1187.7,484.9 1190.7,488.3 1193.7,491.7 1196.7,495.8 1199.7,501.1 1200.0,501.7 1351.5,501.7" fill="none" stroke="#61D04F" stroke-width="1.8" stroke-linejoin="round" />
<polyline points="208.0,128.4 211.0,128.5 214.0,128.5 217.0,128.6 220.0,128.6 223.0,128.7 226.0,128.7 229.0,128.8 232.0,128.9 235.0,128.9 238.0,129.0 241.0,129.0 244.0,129.1 247.0,129.2 250.0,129.2 253.0,129.3 256.0,129.4 259.0,129.4 262.0,129.5 265.0,129.6 268.0,129.6 271.0,129.7 274.0,129.8 277.0,129.9 280.0,129.9 283.0,130.0 286.0,130.1 289.0,130.2 292.0,130.3 295.0,130.4 298.0,130.5 301.0,130.5 304.0,130.6 307.0,130.7 310.0,130.8 313.0,130.9 316.0,131.0 319.0,131.1 322.0,131.2 325.0,131.4 328.0,131.5 331.0,131.6 334.0,131.7 337.0,131.8 340.0,131.9 343.0,132.1 346.0,132.2 349.0,132.3 352.0,132.4 355.0,132.6 358.0,132.7 361.0,132.8 364.0,133.0 367.0,133.1 370.0,133.3 373.0,133.4 376.0,133.6 379.0,133.7 382.0,133.9 385.0,134.1 388.0,134.2 391.0,134.4 394.0,134.6 397.0,134.8 400.0,134.9 403.0,135.1 406.0,135.3 409.0,135.5 412.0,135.7 415.0,135.9 418.0,136.1 421.0,136.3 424.0,136.5 427.0,136.7 430.0,136.9 433.0,137.2 436.0,137.4 439.0,137.6 442.0,137.9 445.0,138.1 448.0,138.3 451.0,138.6 454.0,138.8 457.0,139.1 460.0,139.4 463.0,139.6 466.0,139.9 469.0,140.2 472.0,140.4 475.0,140.7 478.0,141.0 481.0,141.3 484.0,141.6 487.0,141.9 490.0,142.2 493.0,142.5 496.0,142.8 499.0,143.2 502.0,143.5 505.0,143.8 508.0,144.1 511.0,144.5 514.0,144.8 517.0,145.2 520.0,145.5 523.0,145.9 526.0,146.3 529.0,146.7 532.0,147.0 535.0,147.4 538.0,147.8 541.0,148.2 544.0,148.6 547.0,149.0 550.0,149.4 553.0,149.8 556.0,150.3 559.0,150.7 562.0,151.1 565.0,151.6 568.0,152.0 571.0,152.5 574.0,152.9 577.0,153.4 580.0,153.9 583.0,154.4 586.0,154.9 589.0,155.3 592.0,155.8 595.0,156.4 598.0,156.9 601.0,157.4 604.0,157.9 607.0,158.4 610.0,159.0 613.0,159.5 616.0,160.1 619.0,160.6 622.0,161.2 625.0,161.8 628.0,162.4 631.0,162.9 634.0,163.5 637.0,164.1 640.0,164.7 643.0,165.4 646.0,166.0 649.0,166.6 652.0,167.3 655.0,167.9 658.0,168.6 661.0,169.2 664.0,169.9 667.0,170.6 670.0,171.2 673.0,171.9 676.0,172.6 679.0,173.3 682.0,174.0 685.0,174.7 688.0,175.5 691.0,176.2 694.0,176.9 697.0,177.7 700.0,178.4 703.0,179.2 706.0,179.9 709.0,180.7 712.0,181.5 715.0,182.2 718.0,183.0 721.0,183.8 724.0,184.6 727.0,185.4 730.0,186.2 733.0,187.0 736.0,187.8 739.0,188.6 742.0,189.5 745.0,190.3 748.0,191.1 751.0,192.0 754.0,192.8 757.0,193.7 760.0,194.5 763.0,195.4 766.0,196.3 769.0,197.1 772.0,198.0 775.0,198.9 778.0,199.8 781.0,200.7 784.0,201.7 787.0,202.6 790.0,203.5 793.0,204.5 796.0,205.5 799.0,206.4 802.0,207.4 805.0,208.5 808.0,209.5 811.0,210.5 814.0,211.6 817.0,212.7 820.0,213.7 823.0,214.8 826.0,216.0 829.0,217.1 832.0,218.3 835.0,219.5 838.0,220.7 841.0,221.9 844.0,223.1 847.0,224.4 850.0,225.7 853.0,227.0 856.0,228.3 859.0,229.7 862.0,231.0 865.0,232.4 868.0,233.8 871.0,235.3 874.0,236.7 877.0,238.2 880.0,239.7 883.0,241.2 886.0,242.7 889.0,244.2 892.0,245.7 895.0,247.3 898.0,248.8 901.0,250.4 904.0,252.0 907.0,253.6 910.0,255.2 913.0,256.8 916.0,258.5 919.0,260.1 922.0,261.8 925.0,263.6 928.0,265.3 931.0,267.1 934.0,268.9 937.0,270.8 940.0,272.7 943.0,274.6 946.0,276.6 949.0,278.6 952.0,280.7 955.0,282.8 958.0,284.9 961.0,287.2 964.0,289.4 967.0,291.7 970.0,294.1 973.0,296.5 976.0,299.0 979.0,301.5 982.0,304.1 985.0,306.7 988.0,309.4 991.0,312.2 994.0,315.0 997.0,317.8 1000.0,320.7 1003.0,323.6 1006.0,326.6 1009.0,329.6 1012.0,332.7 1015.0,335.7 1018.0,338.9 1021.0,342.0 1024.0,345.2 1027.0,348.4 1030.0,351.6 1033.0,354.9 1036.0,358.1 1039.0,361.4 1042.0,364.7 1045.0,368.1 1048.0,371.4 1051.0,374.7 1054.0,378.1 1057.0,381.5 1060.0,384.8 1063.0,388.2 1066.0,391.5 1069.0,394.9 1072.0,398.3 1075.0,401.7 1078.0,405.1 1081.0,408.6 1084.0,412.1 1087.0,415.6 1090.0,419.2 1093.0,422.8 1096.0,426.4 1099.0,430.1 1102.0,433.9 1105.0,437.7 1108.0,441.6 1111.0,445.6 1114.0,449.6 1117.0,453.7 1120.0,457.9 1123.0,462.2 1126.0,466.5 1129.0,471.0 1132.0,475.5 1135.0,480.2 1138.0,485.0 1141.0,489.9 1144.0,494.9 1147.0,500.0 1148.0,501.7 1351.5,501.7" fill="none" stroke="#28E2E5" stroke-width="1.8" stroke-linejoin="round" />
<polyline points="208.0,832.5 211.0,832.3 214.0,832.1 217.0,832.0 220.0,831.8 223.0,831.6 226.0,831.4 229.0,831.3 232.0,831.1 235.0,830.9 238.0,830.8 241.0,830.6 244.0,830.4 247.0,830.2 250.0,830.1 253.0,829.9 256.0,829.7 259.0,829.6 262.0,829.4 265.0,829.2 268.0,829.1 271.0,828.9 274.0,828.7 277.0,828.6 280.0,828.4 283.0,828.2 286.0,828.1 289.0,827.9 292.0,827.7 295.0,827.6 298.0,827.4 301.0,827.2 304.0,827.0 307.0,826.9 310.0,826.7 313.0,826.5 316.0,826.4 319.0,826.2 322.0,826.0 325.0,825.8 328.0,825.6 331.0,825.5 334.0,825.3 337.0,825.1 340.0,824.9 343.0,824.7 346.0,824.5 349.0,824.4 352.0,824.2 355.0,824.0 358.0,823.8 361.0,823.6 364.0,823.4 367.0,823.2 370.0,823.0 373.0,822.8 376.0,822.6 379.0,822.3 382.0,822.1 385.0,821.9 388.0,821.7 391.0,821.5 394.0,821.3 397.0,821.0 400.0,820.8 403.0,820.6 406.0,820.3 409.0,820.1 412.0,819.9 415.0,819.6 418.0,819.4 421.0,819.1 424.0,818.9 427.0,818.6 430.0,818.4 433.0,818.1 436.0,817.8 439.0,817.6 442.0,817.3 445.0,817.0 448.0,816.7 451.0,816.4 454.0,816.2 457.0,815.9 460.0,815.6 463.0,815.3 466.0,815.0 469.0,814.6 472.0,814.3 475.0,814.0 478.0,813.7 481.0,813.4 484.0,813.0 487.0,812.7 490.0,812.4 493.0,812.0 496.0,811.7 499.0,811.3 502.0,810.9 505.0,810.6 508.0,810.2 511.0,809.8 514.0,809.4 517.0,809.1 520.0,808.7 523.0,808.3 526.0,807.9 529.0,807.5 532.0,807.0 535.0,806.6 538.0,806.2 541.0,805.8 544.0,805.3 547.0,804.9 550.0,804.4 553.0,804.0 556.0,803.5 559.0,803.0 562.0,802.6 565.0,802.1 568.0,801.6 571.0,801.1 574.0,800.6 577.0,800.1 580.0,799.6 583.0,799.0 586.0,798.5 589.0,798.0 592.0,797.4 595.0,796.9 598.0,796.3 601.0,795.7 604.0,795.2 607.0,794.6 610.0,794.0 613.0,793.4 616.0,792.8 619.0,792.2 622.0,791.5 625.0,790.9 628.0,790.3 631.0,789.6 634.0,789.0 637.0,788.3 640.0,787.6 643.0,786.9 646.0,786.2 649.0,785.5 652.0,784.8 655.0,784.1 658.0,783.4 661.0,782.6 664.0,781.9 667.0,781.1 669.0,780.6 669.0,780.6 672.0,779.8 675.0,778.9 678.0,778.0 681.0,777.1 684.0,776.2 687.0,775.2 690.0,774.2 693.0,773.2 696.0,772.2 699.0,771.1 702.0,770.1 705.0,768.9 708.0,767.8 711.0,766.7 714.0,765.5 717.0,764.3 720.0,763.1 723.0,761.8 726.0,760.6 729.0,759.3 732.0,758.0 735.0,756.7 738.0,755.3 741.0,753.9 744.0,752.5 747.0,751.1 750.0,749.7 753.0,748.2 756.0,746.8 759.0,745.3 762.0,743.7 765.0,742.2 768.0,740.6 771.0,739.1 774.0,737.5 777.0,735.9 780.0,734.2 783.0,732.6 786.0,730.9 789.0,729.2 792.0,727.5 795.0,725.8 798.0,724.0 801.0,722.3 804.0,720.5 807.0,718.7 810.0,716.9 813.0,715.0 816.0,713.2 819.0,711.3 822.0,709.4 825.0,707.5 828.0,705.6 831.0,703.7 834.0,701.7 837.0,699.8 840.0,697.8 843.0,695.8 846.0,693.8 849.0,691.8 852.0,689.7 855.0,687.7 858.0,685.6 861.0,683.5 864.0,681.4 867.0,679.3 870.0,677.2 873.0,675.0 876.0,672.9 879.0,670.7 882.0,668.5 885.0,666.3 888.0,664.1 891.0,661.8 894.0,659.6 897.0,657.3 900.0,655.0 903.0,652.7 906.0,650.3 909.0,648.0 912.0,645.6 915.0,643.2 918.0,640.8 921.0,638.3 924.0,635.8 927.0,633.4 930.0,630.8 933.0,628.3 936.0,625.7 939.0,623.2 942.0,620.6 945.0,617.9 948.0,615.3 951.0,612.6 954.0,609.9 957.0,607.1 960.0,604.4 963.0,601.6 966.0,598.8 969.0,595.9 972.0,593.1 975.0,590.2 978.0,587.2 981.0,584.3 984.0,581.3 987.0,578.3 990.0,575.2 993.0,572.2 996.0,569.1 999.0,566.0 1002.0,562.8 1005.0,559.7 1008.0,556.5 1011.0,553.3 1014.0,550.1 1017.0,546.9 1020.0,543.7 1023.0,540.4 1026.0,537.2 1029.0,533.9 1032.0,530.6 1035.0,527.3 1038.0,523.9 1041.0,520.6 1044.0,517.3 1047.0,514.0 1050.0,510.6 1053.0,507.3 1056.0,503.9 1058.0,501.7 1351.5,501.7" fill="none" stroke="#000000" stroke-width="1.8" stroke-linejoin="round" />
<line x1="1000" y1="501.7" x2="1351.5" y2="501.7" stroke="#C8405E" stroke-width="2"/>
</g>
<rect x="162.6" y="100.6" width="1235.1000000000001" height="760.3" fill="none" stroke="#282828" stroke-width="2.2"/>
<line x1="335.5" y1="860.9" x2="335.5" y2="878.9" stroke="#282828" stroke-width="2"/>
<line x1="335.5" y1="100.6" x2="335.5" y2="91.6" stroke="#282828" stroke-width="2"/>
<text x="0" y="0" font-size="30" text-anchor="middle" transform="translate(335.5,926.5) scale(0.97,1.07)">&#8722;7</text>
<text x="0" y="0" font-size="30" text-anchor="middle" transform="translate(335.5,55.3) scale(0.97,1.07)">14</text>
<line x1="533.7" y1="860.9" x2="533.7" y2="878.9" stroke="#282828" stroke-width="2"/>
<line x1="533.7" y1="100.6" x2="533.7" y2="91.6" stroke="#282828" stroke-width="2"/>
<text x="0" y="0" font-size="30" text-anchor="middle" transform="translate(533.7,926.5) scale(0.97,1.07)">&#8722;6</text>
<text x="0" y="0" font-size="30" text-anchor="middle" transform="translate(533.7,55.3) scale(0.97,1.07)">14</text>
<line x1="731.9" y1="860.9" x2="731.9" y2="878.9" stroke="#282828" stroke-width="2"/>
<line x1="731.9" y1="100.6" x2="731.9" y2="91.6" stroke="#282828" stroke-width="2"/>
<text x="0" y="0" font-size="30" text-anchor="middle" transform="translate(731.9,926.5) scale(0.97,1.07)">&#8722;5</text>
<text x="0" y="0" font-size="30" text-anchor="middle" transform="translate(731.9,55.3) scale(0.97,1.07)">12</text>
<line x1="930.1" y1="860.9" x2="930.1" y2="878.9" stroke="#282828" stroke-width="2"/>
<line x1="930.1" y1="100.6" x2="930.1" y2="91.6" stroke="#282828" stroke-width="2"/>
<text x="0" y="0" font-size="30" text-anchor="middle" transform="translate(930.1,926.5) scale(0.97,1.07)">&#8722;4</text>
<text x="0" y="0" font-size="30" text-anchor="middle" transform="translate(930.1,55.3) scale(0.97,1.07)">11</text>
<line x1="1128.3" y1="860.9" x2="1128.3" y2="878.9" stroke="#282828" stroke-width="2"/>
<line x1="1128.3" y1="100.6" x2="1128.3" y2="91.6" stroke="#282828" stroke-width="2"/>
<text x="0" y="0" font-size="30" text-anchor="middle" transform="translate(1128.3,926.5) scale(0.97,1.07)">&#8722;3</text>
<text x="0" y="0" font-size="30" text-anchor="middle" transform="translate(1128.3,55.3) scale(0.97,1.07)">6</text>
<line x1="1326.5" y1="860.9" x2="1326.5" y2="878.9" stroke="#282828" stroke-width="2"/>
<line x1="1326.5" y1="100.6" x2="1326.5" y2="91.6" stroke="#282828" stroke-width="2"/>
<text x="0" y="0" font-size="30" text-anchor="middle" transform="translate(1326.5,926.5) scale(0.97,1.07)">&#8722;2</text>
<text x="0" y="0" font-size="30" text-anchor="middle" transform="translate(1326.5,55.3) scale(0.97,1.07)">3</text>
<line x1="162.6" y1="287.3" x2="144.0" y2="287.3" stroke="#282828" stroke-width="2"/>
<text x="0" y="0" font-size="30" text-anchor="middle" transform="translate(118.8,287.3) rotate(-90) scale(0.97,1.09)">0.5</text>
<line x1="162.6" y1="501.7" x2="144.0" y2="501.7" stroke="#282828" stroke-width="2"/>
<text x="0" y="0" font-size="30" text-anchor="middle" transform="translate(118.8,501.7) rotate(-90) scale(0.97,1.09)">0.0</text>
<line x1="162.6" y1="716.1" x2="144.0" y2="716.1" stroke="#282828" stroke-width="2"/>
<text x="0" y="0" font-size="30" text-anchor="middle" transform="translate(118.8,716.1) rotate(-90) scale(0.97,1.09)">&#8722;0.5</text>
<text x="779" y="1000" font-size="30" text-anchor="middle" textLength="167" lengthAdjust="spacingAndGlyphs">Log Lambda</text>
<text x="0" y="0" font-size="30" text-anchor="middle" textLength="159.5" lengthAdjust="spacingAndGlyphs" transform="translate(44.6,481) rotate(-90)">Coefficients</text>
<path d="M213.70,1692.90V1927.90M202.30,1692.90H225.10M202.30,1927.90H225.10M232.18,1693.48V1928.32M220.78,1693.48H243.58M220.78,1928.32H243.58M250.65,1693.96V1928.64M239.25,1693.96H262.05M239.25,1928.64H262.05M269.13,1694.44V1928.96M257.73,1694.44H280.53M257.73,1928.96H280.53M287.60,1694.92V1929.28M276.20,1694.92H299.00M276.20,1929.28H299.00M306.08,1695.20V1929.40M294.68,1695.20H317.48M294.68,1929.40H317.48M324.56,1695.78V1929.82M313.16,1695.78H335.96M313.16,1929.82H335.96M343.03,1696.26V1930.14M331.63,1696.26H354.43M331.63,1930.14H354.43M361.51,1696.74V1930.46M350.11,1696.74H372.91M350.11,1930.46H372.91M379.98,1697.02V1930.58M368.58,1697.02H391.38M368.58,1930.58H391.38M398.46,1697.60V1931.00M387.06,1697.60H409.86M387.06,1931.00H409.86M416.94,1698.08V1931.32M405.54,1698.08H428.34M405.54,1931.32H428.34M435.41,1698.56V1931.64M424.01,1698.56H446.81M424.01,1931.64H446.81M453.89,1699.04V1931.96M442.49,1699.04H465.29M442.49,1931.96H465.29M472.36,1699.62V1932.38M460.96,1699.62H483.76M460.96,1932.38H483.76M490.84,1700.10V1932.70M479.44,1700.10H502.24M479.44,1932.70H502.24M509.32,1700.63V1932.97M497.92,1700.63H520.72M497.92,1932.97H520.72M527.79,1701.17V1933.23M516.39,1701.17H539.19M516.39,1933.23H539.19M546.27,1701.80V1933.60M534.87,1701.80H557.67M534.87,1933.60H557.67M564.74,1702.19V1933.21M553.34,1702.19H576.14M553.34,1933.21H576.14M583.22,1702.58V1932.82M571.82,1702.58H594.62M571.82,1932.82H594.62M601.70,1702.97V1932.43M590.30,1702.97H613.10M590.30,1932.43H613.10M620.17,1703.36V1932.04M608.77,1703.36H631.57M608.77,1932.04H631.57M638.65,1703.85V1931.75M627.25,1703.85H650.05M627.25,1931.75H650.05M657.12,1704.45V1931.55M645.72,1704.45H668.52M645.72,1931.55H668.52M675.60,1705.14V1931.46M664.20,1705.14H687.00M664.20,1931.46H687.00M694.08,1705.83V1931.37M682.68,1705.83H705.48M682.68,1931.37H705.48M712.55,1706.82V1931.58M701.15,1706.82H723.95M701.15,1931.58H723.95M731.03,1707.81V1931.79M719.63,1707.81H742.43M719.63,1931.79H742.43M749.50,1708.80V1932.00M738.10,1708.80H760.90M738.10,1932.00H760.90M767.98,1708.97V1931.23M756.58,1708.97H779.38M756.58,1931.23H779.38M786.46,1709.15V1930.45M775.06,1709.15H797.86M775.06,1930.45H797.86M804.93,1708.72V1929.08M793.53,1708.72H816.33M793.53,1929.08H816.33M823.41,1707.99V1927.41M812.01,1707.99H834.81M812.01,1927.41H834.81M841.88,1706.66V1925.14M830.48,1706.66H853.28M830.48,1925.14H853.28M860.36,1705.34V1922.86M848.96,1705.34H871.76M848.96,1922.86H871.76M878.84,1704.01V1920.59M867.44,1704.01H890.24M867.44,1920.59H890.24M897.31,1702.78V1918.42M885.91,1702.78H908.71M885.91,1918.42H908.71M915.79,1701.15V1915.85M904.39,1701.15H927.19M904.39,1915.85H927.19M934.26,1698.93V1912.67M922.86,1698.93H945.66M922.86,1912.67H945.66M952.74,1696.20V1909.00M941.34,1696.20H964.14M941.34,1909.00H964.14M971.22,1693.40V1904.70M959.82,1693.40H982.62M959.82,1904.70H982.62M989.69,1688.70V1899.80M978.29,1688.70H1001.09M978.29,1899.80H1001.09M1008.17,1682.80V1893.40M996.77,1682.80H1019.57M996.77,1893.40H1019.57M1026.64,1675.30V1885.50M1015.24,1675.30H1038.04M1015.24,1885.50H1038.04M1045.12,1666.40V1876.20M1033.72,1666.40H1056.52M1033.72,1876.20H1056.52M1063.60,1655.70V1865.70M1052.20,1655.70H1075.00M1052.20,1865.70H1075.00M1082.07,1644.30V1853.20M1070.67,1644.30H1093.47M1070.67,1853.20H1093.47M1100.55,1632.10V1839.40M1089.15,1632.10H1111.95M1089.15,1839.40H1111.95M1119.02,1617.70V1823.40M1107.62,1617.70H1130.42M1107.62,1823.40H1130.42M1137.50,1600.90V1805.10M1126.10,1600.90H1148.90M1126.10,1805.10H1148.90M1155.98,1585.70V1784.90M1144.58,1585.70H1167.38M1144.58,1784.90H1167.38M1174.45,1571.50V1763.80M1163.05,1571.50H1185.85M1163.05,1763.80H1185.85M1192.93,1557.60V1742.70M1181.53,1557.60H1204.33M1181.53,1742.70H1204.33M1211.40,1540.90V1718.80M1200.00,1540.90H1222.80M1200.00,1718.80H1222.80M1229.88,1519.40V1690.30M1218.48,1519.40H1241.28M1218.48,1690.30H1241.28M1248.36,1492.10V1655.20M1236.96,1492.10H1259.76M1236.96,1655.20H1259.76M1266.83,1460.60V1616.20M1255.43,1460.60H1278.23M1255.43,1616.20H1278.23M1285.31,1426.20V1573.80M1273.91,1426.20H1296.71M1273.91,1573.80H1296.71M1303.78,1385.10V1526.30M1292.38,1385.10H1315.18M1292.38,1526.30H1315.18M1322.26,1334.80V1472.90M1310.86,1334.80H1333.66M1310.86,1472.90H1333.66M1340.74,1279.40V1417.20M1329.34,1279.40H1352.14M1329.34,1417.20H1352.14M1359.21,1235.10V1369.70M1347.81,1235.10H1370.61M1347.81,1369.70H1370.61" fill="none" stroke="#A9A9A9" stroke-width="1.7"/>
<line x1="749.5" y1="1207.0" x2="749.5" y2="1960.7" stroke="#333" stroke-width="2" stroke-dasharray="2.5 5.5"/>
<line x1="1119.0" y1="1207.0" x2="1119.0" y2="1960.7" stroke="#333" stroke-width="2" stroke-dasharray="2.5 5.5"/>
<circle cx="213.70" cy="1810.40" r="5.6" fill="#FF0000"/>
<circle cx="232.18" cy="1810.90" r="5.6" fill="#FF0000"/>
<circle cx="250.65" cy="1811.30" r="5.6" fill="#FF0000"/>
<circle cx="269.13" cy="1811.70" r="5.6" fill="#FF0000"/>
<circle cx="287.60" cy="1812.10" r="5.6" fill="#FF0000"/>
<circle cx="306.08" cy="1812.30" r="5.6" fill="#FF0000"/>
<circle cx="324.56" cy="1812.80" r="5.6" fill="#FF0000"/>
<circle cx="343.03" cy="1813.20" r="5.6" fill="#FF0000"/>
<circle cx="361.51" cy="1813.60" r="5.6" fill="#FF0000"/>
<circle cx="379.98" cy="1813.80" r="5.6" fill="#FF0000"/>
<circle cx="398.46" cy="1814.30" r="5.6" fill="#FF0000"/>
<circle cx="416.94" cy="1814.70" r="5.6" fill="#FF0000"/>
<circle cx="435.41" cy="1815.10" r="5.6" fill="#FF0000"/>
<circle cx="453.89" cy="1815.50" r="5.6" fill="#FF0000"/>
<circle cx="472.36" cy="1816.00" r="5.6" fill="#FF0000"/>
<circle cx="490.84" cy="1816.40" r="5.6" fill="#FF0000"/>
<circle cx="509.32" cy="1816.80" r="5.6" fill="#FF0000"/>
<circle cx="527.79" cy="1817.20" r="5.6" fill="#FF0000"/>
<circle cx="546.27" cy="1817.70" r="5.6" fill="#FF0000"/>
<circle cx="564.74" cy="1817.70" r="5.6" fill="#FF0000"/>
<circle cx="583.22" cy="1817.70" r="5.6" fill="#FF0000"/>
<circle cx="601.70" cy="1817.70" r="5.6" fill="#FF0000"/>
<circle cx="620.17" cy="1817.70" r="5.6" fill="#FF0000"/>
<circle cx="638.65" cy="1817.80" r="5.6" fill="#FF0000"/>
<circle cx="657.12" cy="1818.00" r="5.6" fill="#FF0000"/>
<circle cx="675.60" cy="1818.30" r="5.6" fill="#FF0000"/>
<circle cx="694.08" cy="1818.60" r="5.6" fill="#FF0000"/>
<circle cx="712.55" cy="1819.20" r="5.6" fill="#FF0000"/>
<circle cx="731.03" cy="1819.80" r="5.6" fill="#FF0000"/>
<circle cx="749.50" cy="1820.40" r="5.6" fill="#FF0000"/>
<circle cx="767.98" cy="1820.10" r="5.6" fill="#FF0000"/>
<circle cx="786.46" cy="1819.80" r="5.6" fill="#FF0000"/>
<circle cx="804.93" cy="1818.90" r="5.6" fill="#FF0000"/>
<circle cx="823.41" cy="1817.70" r="5.6" fill="#FF0000"/>
<circle cx="841.88" cy="1815.90" r="5.6" fill="#FF0000"/>
<circle cx="860.36" cy="1814.10" r="5.6" fill="#FF0000"/>
<circle cx="878.84" cy="1812.30" r="5.6" fill="#FF0000"/>
<circle cx="897.31" cy="1810.60" r="5.6" fill="#FF0000"/>
<circle cx="915.79" cy="1808.50" r="5.6" fill="#FF0000"/>
<circle cx="934.26" cy="1805.80" r="5.6" fill="#FF0000"/>
<circle cx="952.74" cy="1803.20" r="5.6" fill="#FF0000"/>
<circle cx="971.22" cy="1799.80" r="5.6" fill="#FF0000"/>
<circle cx="989.69" cy="1794.90" r="5.6" fill="#FF0000"/>
<circle cx="1008.17" cy="1788.30" r="5.6" fill="#FF0000"/>
<circle cx="1026.64" cy="1780.20" r="5.6" fill="#FF0000"/>
<circle cx="1045.12" cy="1771.10" r="5.6" fill="#FF0000"/>
<circle cx="1063.60" cy="1760.00" r="5.6" fill="#FF0000"/>
<circle cx="1082.07" cy="1748.30" r="5.6" fill="#FF0000"/>
<circle cx="1100.55" cy="1735.10" r="5.6" fill="#FF0000"/>
<circle cx="1119.02" cy="1720.00" r="5.6" fill="#FF0000"/>
<circle cx="1137.50" cy="1702.60" r="5.6" fill="#FF0000"/>
<circle cx="1155.98" cy="1685.50" r="5.6" fill="#FF0000"/>
<circle cx="1174.45" cy="1667.90" r="5.6" fill="#FF0000"/>
<circle cx="1192.93" cy="1650.50" r="5.6" fill="#FF0000"/>
<circle cx="1211.40" cy="1630.00" r="5.6" fill="#FF0000"/>
<circle cx="1229.88" cy="1605.10" r="5.6" fill="#FF0000"/>
<circle cx="1248.36" cy="1573.80" r="5.6" fill="#FF0000"/>
<circle cx="1266.83" cy="1538.40" r="5.6" fill="#FF0000"/>
<circle cx="1285.31" cy="1499.80" r="5.6" fill="#FF0000"/>
<circle cx="1303.78" cy="1455.70" r="5.6" fill="#FF0000"/>
<circle cx="1322.26" cy="1403.80" r="5.6" fill="#FF0000"/>
<circle cx="1340.74" cy="1347.90" r="5.6" fill="#FF0000"/>
<circle cx="1359.21" cy="1302.70" r="5.6" fill="#FF0000"/>
<rect x="168.3" y="1207.0" width="1236.7" height="753.7" fill="none" stroke="#282828" stroke-width="2.2"/>
<line x1="341.2" y1="1960.7" x2="341.2" y2="1978.7" stroke="#282828" stroke-width="2"/>
<text x="0" y="0" font-size="30" text-anchor="middle" transform="translate(341.2,2026.5) scale(0.97,1.07)">&#8722;7</text>
<line x1="539.9" y1="1960.7" x2="539.9" y2="1978.7" stroke="#282828" stroke-width="2"/>
<text x="0" y="0" font-size="30" text-anchor="middle" transform="translate(539.9,2026.5) scale(0.97,1.07)">&#8722;6</text>
<line x1="738.6" y1="1960.7" x2="738.6" y2="1978.7" stroke="#282828" stroke-width="2"/>
<text x="0" y="0" font-size="30" text-anchor="middle" transform="translate(738.6,2026.5) scale(0.97,1.07)">&#8722;5</text>
<line x1="937.3" y1="1960.7" x2="937.3" y2="1978.7" stroke="#282828" stroke-width="2"/>
<text x="0" y="0" font-size="30" text-anchor="middle" transform="translate(937.3,2026.5) scale(0.97,1.07)">&#8722;4</text>
<line x1="1136.0" y1="1960.7" x2="1136.0" y2="1978.7" stroke="#282828" stroke-width="2"/>
<text x="0" y="0" font-size="30" text-anchor="middle" transform="translate(1136.0,2026.5) scale(0.97,1.07)">&#8722;3</text>
<line x1="1334.7" y1="1960.7" x2="1334.7" y2="1978.7" stroke="#282828" stroke-width="2"/>
<text x="0" y="0" font-size="30" text-anchor="middle" transform="translate(1334.7,2026.5) scale(0.97,1.07)">&#8722;2</text>
<line x1="168.3" y1="1951.3" x2="149.5" y2="1951.3" stroke="#282828" stroke-width="2"/>
<text x="0" y="0" font-size="30" text-anchor="middle" transform="translate(124.8,1951.3) rotate(-90) scale(0.97,1.09)">0.80</text>
<line x1="168.3" y1="1815.7" x2="149.5" y2="1815.7" stroke="#282828" stroke-width="2"/>
<text x="0" y="0" font-size="30" text-anchor="middle" transform="translate(124.8,1815.7) rotate(-90) scale(0.97,1.09)">0.85</text>
<line x1="168.3" y1="1680.0" x2="149.5" y2="1680.0" stroke="#282828" stroke-width="2"/>
<text x="0" y="0" font-size="30" text-anchor="middle" transform="translate(124.8,1680.0) rotate(-90) scale(0.97,1.09)">0.90</text>
<line x1="168.3" y1="1544.4" x2="149.5" y2="1544.4" stroke="#282828" stroke-width="2"/>
<text x="0" y="0" font-size="30" text-anchor="middle" transform="translate(124.8,1544.4) rotate(-90) scale(0.97,1.09)">0.95</text>
<line x1="168.3" y1="1408.7" x2="149.5" y2="1408.7" stroke="#282828" stroke-width="2"/>
<text x="0" y="0" font-size="30" text-anchor="middle" transform="translate(124.8,1408.7) rotate(-90) scale(0.97,1.09)">1.00</text>
<line x1="168.3" y1="1273.1" x2="149.5" y2="1273.1" stroke="#282828" stroke-width="2"/>
<text x="0" y="0" font-size="30" text-anchor="middle" transform="translate(124.8,1273.1) rotate(-90) scale(0.97,1.09)">1.05</text>
<text x="0" y="0" font-size="30" text-anchor="middle" transform="translate(213.7,1163.2) scale(0.97,1.07)">14</text>
<text x="0" y="0" font-size="30" text-anchor="middle" transform="translate(287.6,1163.2) scale(0.97,1.07)">14</text>
<text x="0" y="0" font-size="30" text-anchor="middle" transform="translate(361.5,1163.2) scale(0.97,1.07)">14</text>
<text x="0" y="0" font-size="30" text-anchor="middle" transform="translate(435.4,1163.2) scale(0.97,1.07)">14</text>
<text x="0" y="0" font-size="30" text-anchor="middle" transform="translate(509.3,1163.2) scale(0.97,1.07)">14</text>
<text x="0" y="0" font-size="30" text-anchor="middle" transform="translate(583.2,1163.2) scale(0.97,1.07)">14</text>
<text x="0" y="0" font-size="30" text-anchor="middle" transform="translate(657.1,1163.2) scale(0.97,1.07)">14</text>
<text x="0" y="0" font-size="30" text-anchor="middle" transform="translate(731.0,1163.2) scale(0.97,1.07)">12</text>
<text x="0" y="0" font-size="30" text-anchor="middle" transform="translate(804.9,1163.2) scale(0.97,1.07)">12</text>
<text x="0" y="0" font-size="30" text-anchor="middle" transform="translate(878.8,1163.2) scale(0.97,1.07)">12</text>
<text x="0" y="0" font-size="30" text-anchor="middle" transform="translate(952.7,1163.2) scale(0.97,1.07)">10</text>
<text x="0" y="0" font-size="30" text-anchor="middle" transform="translate(1008.2,1163.2) scale(0.97,1.07)">9</text>
<text x="0" y="0" font-size="30" text-anchor="middle" transform="translate(1063.6,1163.2) scale(0.97,1.07)">9</text>
<text x="0" y="0" font-size="30" text-anchor="middle" transform="translate(1119.0,1163.2) scale(0.97,1.07)">6</text>
<text x="0" y="0" font-size="30" text-anchor="middle" transform="translate(1174.5,1163.2) scale(0.97,1.07)">5</text>
<text x="0" y="0" font-size="30" text-anchor="middle" transform="translate(1229.9,1163.2) scale(0.97,1.07)">4</text>
<text x="0" y="0" font-size="30" text-anchor="middle" transform="translate(1285.3,1163.2) scale(0.97,1.07)">3</text>
<text x="0" y="0" font-size="30" text-anchor="middle" transform="translate(1340.7,1163.2) scale(0.97,1.07)">2</text>
<text x="0" y="0" font-size="30" text-anchor="middle" textLength="249" lengthAdjust="spacingAndGlyphs" transform="translate(50.6,1584) rotate(-90)">Binomial Deviance</text>
<text x="739" y="2092.2" font-size="30">Log<tspan font-family="Liberation Serif" font-size="34" dx="2.5">(&#955;)</tspan></text>
</svg></body></html>
